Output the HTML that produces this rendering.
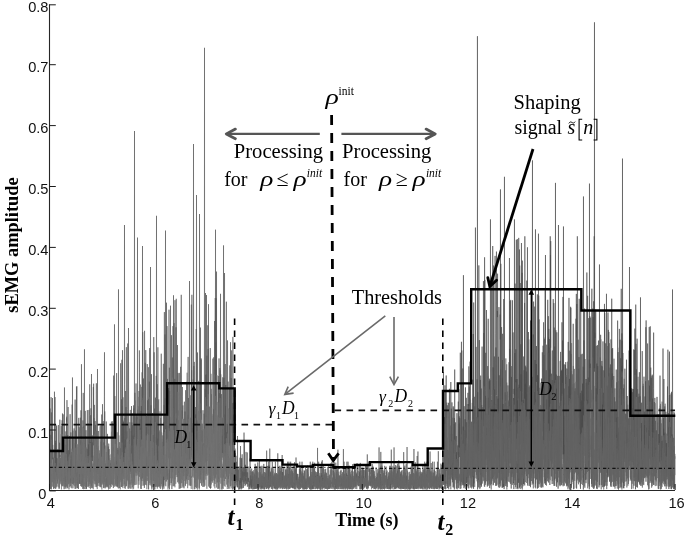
<!DOCTYPE html>
<html><head><meta charset="utf-8"><style>
html,body{margin:0;padding:0;background:#fff;overflow:hidden}
svg{display:block}
text{-webkit-font-smoothing:antialiased}
body{will-change:transform}
.tk{font-family:"Liberation Sans",sans-serif;font-size:14.6px;fill:#111}
.sf{font-family:"Liberation Serif",serif;fill:#000}
.it{font-style:italic}
.bd{font-weight:bold}
</style></head><body>
<svg width="685" height="539" viewBox="0 0 685 539">
<rect width="685" height="539" fill="#fff"/>
<path d="M49.60 457.1 49.73 460.2 49.85 424.7 49.98 408.5 50.10 449.2 50.23 488.7 50.35 471.8 50.48 483.4 50.60 448.8 50.73 469.1 50.85 434.8 50.98 489.2 51.10 397.1 51.23 439.7 51.35 412.4 51.48 448.6 51.60 462.0 51.73 482.5 51.85 473.9 51.98 481.7 52.10 442.9 52.23 431.8 52.35 459.3 52.48 398.0 52.60 450.3 52.73 444.9 52.85 457.7 52.98 478.6 53.10 457.6 53.23 464.4 53.35 468.3 53.48 488.1 53.60 488.9 53.73 451.3 53.85 449.4 53.98 452.5 54.10 465.1 54.23 483.4 54.35 430.8 54.48 391.7 54.60 470.6 54.73 461.0 54.85 479.8 54.98 397.8 55.10 397.1 55.23 488.3 55.35 440.8 55.48 469.1 55.60 443.1 55.73 481.4 55.85 481.3 55.98 456.2 56.10 425.2 56.23 472.4 56.35 457.8 56.48 476.5 56.60 426.1 56.73 476.9 56.85 471.8 56.98 479.6 57.10 473.5 57.23 481.2 57.35 458.6 57.48 483.6 57.60 473.9 57.73 476.3 57.85 454.6 57.98 449.0 58.10 476.3 58.23 478.7 58.35 425.0 58.48 471.8 58.60 472.5 58.73 469.2 58.85 467.7 58.98 463.1 59.10 489.0 59.23 472.6 59.35 460.6 59.48 453.3 59.60 442.7 59.73 482.7 59.85 419.7 59.98 457.0 60.10 454.8 60.23 460.5 60.35 464.2 60.48 477.7 60.60 461.1 60.73 472.1 60.85 458.0 60.98 480.3 61.10 481.1 61.23 452.5 61.35 426.1 61.48 451.7 61.60 485.6 61.73 484.1 61.85 449.1 61.98 477.7 62.10 420.3 62.23 464.3 62.35 486.3 62.48 413.5 62.60 449.1 62.73 439.7 62.85 462.0 62.98 479.1 63.10 422.7 63.23 414.4 63.35 449.8 63.48 476.0 63.60 477.3 63.73 481.7 63.85 478.4 63.98 484.9 64.10 489.2 64.23 440.0 64.35 451.9 64.48 387.5 64.60 483.7 64.73 457.4 64.85 483.8 64.98 444.4 65.10 449.0 65.23 488.7 65.35 455.3 65.48 483.3 65.60 445.0 65.73 454.4 65.85 431.4 65.98 487.1 66.10 458.0 66.23 455.4 66.35 485.8 66.48 418.3 66.60 421.6 66.73 416.7 66.85 463.7 66.98 400.1 67.10 431.9 67.23 431.8 67.35 487.6 67.48 475.0 67.60 460.4 67.73 435.0 67.85 477.2 67.98 483.6 68.10 407.0 68.23 482.7 68.35 450.2 68.48 460.7 68.60 467.1 68.73 471.2 68.85 468.9 68.98 489.4 69.10 461.7 69.23 453.7 69.35 439.7 69.48 460.1 69.60 436.0 69.73 473.3 69.85 483.4 69.98 424.9 70.10 414.2 70.23 440.5 70.35 473.2 70.48 486.2 70.61 459.5 70.73 464.5 70.86 432.4 70.98 482.6 71.11 461.8 71.23 480.8 71.36 455.6 71.48 477.0 71.61 452.1 71.73 478.4 71.86 488.3 71.98 453.4 72.11 404.6 72.23 417.7 72.36 467.3 72.48 377.5 72.61 484.0 72.73 445.2 72.86 430.6 72.98 468.8 73.11 438.1 73.23 483.0 73.36 472.5 73.48 476.2 73.61 484.7 73.73 474.9 73.86 462.4 73.98 437.3 74.11 428.4 74.23 476.9 74.36 469.3 74.48 473.2 74.61 480.7 74.73 482.7 74.86 481.1 74.98 462.0 75.11 399.6 75.23 483.0 75.36 437.3 75.48 486.2 75.61 430.6 75.73 439.6 75.86 471.0 75.98 444.0 76.11 457.6 76.23 483.6 76.36 470.1 76.48 386.7 76.61 482.8 76.73 413.5 76.86 386.3 76.98 429.6 77.11 486.7 77.23 487.8 77.36 468.9 77.48 482.0 77.61 488.2 77.73 471.7 77.86 460.4 77.98 474.1 78.11 447.3 78.23 449.1 78.36 485.4 78.48 489.0 78.61 476.8 78.73 417.9 78.86 483.7 78.98 460.3 79.11 426.8 79.23 483.7 79.36 447.8 79.48 439.5 79.61 476.0 79.73 476.6 79.86 439.9 79.98 484.0 80.11 435.6 80.23 438.0 80.36 417.7 80.48 431.3 80.61 444.5 80.73 440.6 80.86 486.0 80.98 410.3 81.11 470.2 81.23 466.6 81.36 486.6 81.48 364.2 81.61 473.7 81.73 477.6 81.86 450.3 81.98 436.3 82.11 482.2 82.23 462.2 82.36 465.9 82.48 485.4 82.61 442.2 82.73 467.1 82.86 489.0 82.98 420.4 83.11 442.4 83.23 392.9 83.36 488.5 83.48 459.9 83.61 477.6 83.73 426.6 83.86 473.6 83.98 473.9 84.11 466.6 84.23 475.1 84.36 444.9 84.48 349.3 84.61 467.9 84.73 457.4 84.86 489.0 84.98 443.4 85.11 447.8 85.23 410.9 85.36 463.0 85.48 468.4 85.61 484.0 85.73 436.3 85.86 463.2 85.98 430.2 86.11 489.2 86.23 487.9 86.36 478.6 86.48 488.7 86.61 471.9 86.73 448.6 86.86 478.8 86.98 470.9 87.11 474.6 87.23 449.5 87.36 410.1 87.48 469.1 87.61 475.5 87.73 472.8 87.86 467.9 87.98 449.2 88.11 458.0 88.23 423.4 88.36 486.1 88.48 444.5 88.61 468.2 88.73 460.7 88.86 459.9 88.98 409.9 89.11 455.0 89.23 424.0 89.36 482.0 89.48 415.7 89.61 392.9 89.73 384.3 89.86 414.8 89.98 484.2 90.11 470.3 90.23 483.3 90.36 442.1 90.48 450.9 90.61 477.6 90.73 415.2 90.86 457.1 90.98 408.3 91.11 471.4 91.23 480.0 91.36 485.8 91.49 374.0 91.61 457.7 91.74 488.1 91.86 439.0 91.99 446.7 92.11 457.6 92.24 451.2 92.36 442.4 92.49 461.0 92.61 435.4 92.74 475.9 92.86 479.5 92.99 472.8 93.11 463.5 93.24 471.7 93.36 387.1 93.49 434.9 93.61 383.7 93.74 445.3 93.86 418.0 93.99 419.7 94.11 464.6 94.24 461.8 94.36 404.9 94.49 476.3 94.61 475.6 94.74 444.5 94.86 471.4 94.99 440.8 95.11 421.1 95.24 452.1 95.36 481.8 95.49 464.5 95.61 424.8 95.74 472.4 95.86 448.3 95.99 445.1 96.11 446.8 96.24 425.1 96.36 383.3 96.49 470.6 96.61 487.2 96.74 430.8 96.86 466.4 96.99 447.6 97.11 472.4 97.24 485.9 97.36 445.2 97.49 369.0 97.61 464.0 97.74 474.2 97.86 465.0 97.99 461.2 98.11 458.6 98.24 469.8 98.36 431.0 98.49 472.6 98.61 480.5 98.74 483.0 98.86 466.4 98.99 470.0 99.11 464.3 99.24 474.2 99.36 462.1 99.49 453.4 99.61 480.5 99.74 482.3 99.86 465.5 99.99 486.5 100.11 472.9 100.24 487.2 100.36 465.5 100.49 483.5 100.61 441.7 100.74 474.3 100.86 474.3 100.99 483.4 101.11 475.5 101.24 462.9 101.36 425.7 101.49 476.6 101.61 461.4 101.74 414.5 101.86 482.8 101.99 484.6 102.11 456.9 102.24 443.2 102.36 434.5 102.49 404.2 102.61 423.5 102.74 471.2 102.86 479.5 102.99 482.5 103.11 470.3 103.24 421.1 103.36 468.2 103.49 479.5 103.61 462.6 103.74 488.1 103.86 478.8 103.99 442.4 104.11 487.7 104.24 443.0 104.36 396.8 104.49 352.3 104.61 481.7 104.74 411.4 104.86 462.6 104.99 465.8 105.11 463.9 105.24 467.5 105.36 477.0 105.49 463.5 105.61 486.3 105.74 478.7 105.86 487.6 105.99 482.3 106.11 482.1 106.24 421.5 106.36 465.2 106.49 476.3 106.61 477.5 106.74 485.6 106.86 476.5 106.99 475.7 107.11 486.9 107.24 471.8 107.36 472.0 107.49 433.9 107.61 486.2 107.74 485.3 107.86 468.8 107.99 462.8 108.11 470.8 108.24 459.3 108.36 446.5 108.49 488.1 108.61 486.7 108.74 443.6 108.86 464.6 108.99 456.8 109.11 449.1 109.24 474.1 109.36 459.3 109.49 476.4 109.61 470.5 109.74 474.2 109.86 485.0 109.99 475.6 110.11 472.8 110.24 460.1 110.36 485.7 110.49 462.9 110.61 470.0 110.74 477.2 110.86 474.5 110.99 463.9 111.11 487.0 111.24 472.6 111.36 437.3 111.49 431.7 111.61 455.5 111.74 460.7 111.86 484.2 111.99 436.4 112.11 437.5 112.24 421.3 112.37 462.2 112.49 443.8 112.62 423.0 112.74 441.9 112.87 473.1 112.99 483.8 113.12 446.9 113.24 483.2 113.37 488.1 113.49 459.8 113.62 375.6 113.74 473.9 113.87 466.9 113.99 464.0 114.12 471.3 114.24 462.3 114.37 435.7 114.49 324.4 114.62 436.9 114.74 437.0 114.87 396.1 114.99 414.3 115.12 485.5 115.24 435.3 115.37 443.7 115.49 430.9 115.62 440.8 115.74 462.2 115.87 483.8 115.99 483.5 116.12 460.9 116.24 482.4 116.37 463.3 116.49 482.0 116.62 373.1 116.74 486.1 116.87 445.0 116.99 432.3 117.12 442.7 117.24 453.5 117.37 469.0 117.49 487.3 117.62 476.2 117.74 468.0 117.87 447.9 117.99 485.8 118.12 483.9 118.24 449.8 118.37 478.6 118.49 289.4 118.62 470.6 118.74 464.6 118.87 475.9 118.99 472.1 119.12 468.2 119.24 488.0 119.37 464.8 119.49 478.0 119.62 442.2 119.74 445.3 119.87 459.0 119.99 448.2 120.12 464.7 120.24 475.3 120.37 480.1 120.49 457.0 120.62 363.3 120.74 382.2 120.87 467.2 120.99 472.6 121.12 480.8 121.24 486.8 121.37 483.6 121.49 399.3 121.62 436.3 121.74 481.2 121.87 359.8 121.99 463.0 122.12 439.5 122.24 406.2 122.37 486.5 122.49 350.2 122.62 473.4 122.74 419.7 122.87 421.3 122.99 397.3 123.12 473.0 123.24 421.2 123.37 476.8 123.49 421.9 123.62 475.9 123.74 427.3 123.87 422.6 123.99 466.3 124.12 445.1 124.24 484.3 124.37 462.8 124.49 225.0 124.62 384.4 124.74 453.0 124.87 418.1 124.99 447.3 125.12 439.6 125.24 470.2 125.37 462.1 125.49 429.9 125.62 391.0 125.74 417.2 125.87 449.2 125.99 407.0 126.12 447.2 126.24 486.1 126.37 347.2 126.49 477.6 126.62 456.9 126.74 472.2 126.87 479.8 126.99 456.1 127.12 465.3 127.24 431.3 127.37 438.4 127.49 411.1 127.62 409.7 127.74 343.5 127.87 428.8 127.99 480.6 128.12 475.3 128.24 481.4 128.37 458.6 128.49 328.0 128.62 391.1 128.74 455.2 128.87 488.9 128.99 469.7 129.12 460.5 129.24 484.5 129.37 458.9 129.49 440.4 129.62 440.8 129.74 428.4 129.87 470.5 129.99 422.3 130.12 469.5 130.24 445.8 130.37 471.7 130.49 457.1 130.62 448.3 130.74 452.6 130.87 484.6 130.99 430.9 131.12 473.9 131.24 452.3 131.37 442.1 131.49 406.0 131.62 477.8 131.74 473.2 131.87 422.5 131.99 445.3 132.12 413.3 132.24 438.1 132.37 487.4 132.49 432.3 132.62 425.2 132.74 466.4 132.87 464.2 133.00 435.7 133.12 457.0 133.25 480.8 133.37 483.3 133.50 460.1 133.62 405.4 133.75 485.6 133.87 408.5 134.00 464.9 134.12 479.6 134.25 476.3 134.37 446.7 134.50 131.0 134.62 431.7 134.75 484.9 134.87 392.8 135.00 457.1 135.12 472.2 135.25 437.2 135.37 417.5 135.50 460.3 135.62 436.4 135.75 432.3 135.87 417.6 136.00 383.5 136.12 435.1 136.25 444.5 136.37 466.3 136.50 414.6 136.62 441.9 136.75 451.6 136.87 461.9 137.00 417.1 137.12 450.0 137.25 425.3 137.37 466.4 137.50 237.6 137.62 428.7 137.75 471.4 137.87 468.5 138.00 451.8 138.12 409.7 138.25 448.6 138.37 424.5 138.50 430.0 138.62 439.8 138.75 473.9 138.87 473.1 139.00 391.0 139.12 420.9 139.25 459.4 139.37 350.4 139.50 372.8 139.62 472.0 139.75 453.9 139.87 419.3 140.00 434.3 140.12 429.5 140.25 428.7 140.37 384.5 140.50 450.0 140.62 458.6 140.75 427.9 140.87 441.4 141.00 479.3 141.12 410.9 141.25 489.0 141.37 406.1 141.50 446.4 141.62 416.1 141.75 386.9 141.87 458.8 142.00 481.1 142.12 372.3 142.25 389.3 142.37 478.5 142.50 246.0 142.62 397.6 142.75 332.2 142.87 409.8 143.00 448.4 143.12 454.3 143.25 429.7 143.37 420.1 143.50 378.5 143.62 475.3 143.75 485.6 143.87 457.5 144.00 452.2 144.12 449.2 144.25 438.8 144.37 487.9 144.50 330.9 144.62 330.8 144.75 417.6 144.87 454.7 145.00 447.3 145.12 447.4 145.25 362.8 145.37 481.6 145.50 470.6 145.62 480.0 145.75 350.1 145.87 452.6 146.00 456.0 146.12 475.8 146.25 427.1 146.37 440.2 146.50 416.0 146.62 465.2 146.75 477.7 146.87 480.8 147.00 456.7 147.12 476.3 147.25 364.1 147.37 432.3 147.50 433.7 147.62 400.3 147.75 450.8 147.87 471.5 148.00 458.3 148.12 479.3 148.25 414.4 148.37 367.2 148.50 489.2 148.62 449.8 148.75 398.8 148.87 467.8 149.00 429.4 149.12 463.7 149.25 468.1 149.37 381.7 149.50 452.5 149.62 348.1 149.75 396.8 149.87 455.7 150.00 420.4 150.12 458.4 150.25 468.3 150.37 463.8 150.50 267.0 150.62 468.8 150.75 463.8 150.87 480.0 151.00 405.3 151.12 483.7 151.25 425.9 151.37 423.7 151.50 374.2 151.62 480.2 151.75 478.5 151.87 489.4 152.00 482.7 152.12 480.9 152.25 471.7 152.37 464.9 152.50 451.9 152.62 413.0 152.75 473.9 152.87 447.9 153.00 465.2 153.12 435.1 153.25 448.3 153.37 481.0 153.50 465.3 153.62 463.5 153.75 337.1 153.88 486.6 154.00 449.8 154.13 352.3 154.25 471.6 154.38 452.1 154.50 422.8 154.63 408.6 154.75 478.9 154.88 489.3 155.00 473.7 155.13 474.0 155.25 430.6 155.38 397.6 155.50 462.7 155.63 437.1 155.75 486.9 155.88 440.6 156.00 398.5 156.13 473.2 156.25 375.9 156.38 398.2 156.50 215.8 156.63 482.4 156.75 422.7 156.88 434.8 157.00 464.6 157.13 457.5 157.25 384.2 157.38 461.3 157.50 487.2 157.63 438.6 157.75 461.8 157.88 347.3 158.00 450.9 158.13 477.5 158.25 415.5 158.38 458.0 158.50 473.4 158.63 400.5 158.75 399.4 158.88 487.1 159.00 452.6 159.13 486.2 159.25 438.5 159.38 431.7 159.50 460.0 159.63 477.3 159.75 443.0 159.88 444.6 160.00 488.2 160.13 462.0 160.25 451.8 160.38 474.0 160.50 473.9 160.63 418.4 160.75 417.9 160.88 448.6 161.00 439.0 161.13 404.6 161.25 353.7 161.38 456.6 161.50 449.0 161.63 471.0 161.75 456.1 161.88 483.9 162.00 482.3 162.13 441.7 162.25 461.3 162.38 464.6 162.50 477.4 162.63 489.5 162.75 435.4 162.88 458.1 163.00 480.0 163.13 477.6 163.25 486.7 163.38 363.8 163.50 485.4 163.63 425.6 163.75 422.0 163.88 488.7 164.00 466.0 164.13 404.9 164.25 445.7 164.38 312.1 164.50 387.8 164.63 480.1 164.75 477.0 164.88 438.4 165.00 334.5 165.13 415.6 165.25 398.5 165.38 429.1 165.50 230.6 165.63 430.4 165.75 479.3 165.88 475.7 166.00 447.3 166.13 382.0 166.25 467.2 166.38 481.5 166.50 302.7 166.63 456.6 166.75 448.1 166.88 476.4 167.00 326.1 167.13 448.8 167.25 422.1 167.38 407.7 167.50 378.9 167.63 479.8 167.75 472.6 167.88 469.1 168.00 479.4 168.13 465.3 168.25 389.9 168.38 431.2 168.50 458.0 168.63 457.8 168.75 388.1 168.88 404.5 169.00 309.7 169.13 421.4 169.25 459.4 169.38 367.7 169.50 489.3 169.63 391.1 169.75 457.9 169.88 485.3 170.00 428.5 170.13 447.4 170.25 394.6 170.38 372.9 170.50 305.7 170.63 453.4 170.75 457.9 170.88 452.5 171.00 465.2 171.13 483.1 171.25 428.4 171.38 442.8 171.50 335.2 171.63 428.6 171.75 437.4 171.88 489.1 172.00 460.1 172.13 398.4 172.25 410.3 172.38 357.5 172.50 472.2 172.63 433.6 172.75 422.2 172.88 427.3 173.00 326.1 173.13 486.3 173.25 475.0 173.38 464.3 173.50 295.3 173.63 435.9 173.75 455.7 173.88 444.6 174.00 323.1 174.13 465.8 174.25 423.2 174.38 467.4 174.50 441.4 174.63 416.4 174.76 378.9 174.88 479.1 175.01 300.2 175.13 423.8 175.26 446.3 175.38 424.6 175.51 468.5 175.63 450.2 175.76 458.1 175.88 475.1 176.01 327.3 176.13 424.9 176.26 298.8 176.38 447.9 176.51 418.5 176.63 459.8 176.76 465.0 176.88 451.9 177.01 477.1 177.13 383.4 177.26 405.9 177.38 433.1 177.51 345.0 177.63 443.5 177.76 482.3 177.88 372.9 178.01 415.5 178.13 410.5 178.26 437.7 178.38 469.4 178.51 472.9 178.63 420.2 178.76 454.6 178.88 481.3 179.01 434.9 179.13 476.5 179.26 383.6 179.38 474.5 179.51 482.2 179.63 454.7 179.76 448.1 179.88 436.6 180.01 429.3 180.13 480.1 180.26 466.4 180.38 450.7 180.51 445.0 180.63 366.8 180.76 388.2 180.88 382.8 181.01 456.0 181.13 468.7 181.26 294.8 181.38 438.3 181.51 446.2 181.63 468.1 181.76 483.1 181.88 410.4 182.01 465.9 182.13 407.6 182.26 396.7 182.38 387.0 182.51 409.9 182.63 416.7 182.76 418.7 182.88 405.4 183.01 486.8 183.13 451.8 183.26 466.7 183.38 476.0 183.51 425.3 183.63 423.4 183.76 418.8 183.88 451.3 184.01 437.1 184.13 464.9 184.26 425.5 184.38 401.7 184.51 464.7 184.63 432.9 184.76 433.3 184.88 472.4 185.01 411.5 185.13 443.6 185.26 451.9 185.38 484.7 185.51 478.4 185.63 390.2 185.76 441.4 185.88 448.8 186.01 461.7 186.13 443.7 186.26 479.5 186.38 470.4 186.51 470.7 186.63 381.8 186.76 386.1 186.88 483.8 187.01 474.4 187.13 474.6 187.26 383.0 187.38 394.1 187.51 476.1 187.63 414.8 187.76 428.7 187.88 396.9 188.01 377.3 188.13 356.9 188.26 480.0 188.38 398.0 188.51 439.2 188.63 462.6 188.76 442.1 188.88 439.4 189.01 460.7 189.13 441.6 189.26 464.6 189.38 423.6 189.51 281.0 189.63 460.9 189.76 440.2 189.88 435.3 190.01 431.8 190.13 461.6 190.26 485.6 190.38 424.4 190.51 428.9 190.63 417.7 190.76 485.5 190.88 484.3 191.01 441.0 191.13 433.2 191.26 356.0 191.38 304.6 191.51 450.2 191.63 370.2 191.76 457.2 191.88 294.8 192.01 459.0 192.13 390.2 192.26 434.9 192.38 428.1 192.51 458.3 192.63 423.3 192.76 458.1 192.88 453.9 193.01 447.4 193.13 407.8 193.26 379.4 193.38 391.4 193.51 144.0 193.63 418.2 193.76 366.0 193.88 426.9 194.01 429.9 194.13 429.2 194.26 361.9 194.38 393.3 194.51 458.7 194.63 489.3 194.76 449.0 194.88 474.6 195.01 482.6 195.13 469.4 195.26 472.5 195.38 407.0 195.51 439.2 195.64 451.9 195.76 414.5 195.89 421.4 196.01 458.6 196.14 448.0 196.26 329.1 196.39 461.1 196.51 195.0 196.64 386.3 196.76 402.1 196.89 488.1 197.01 420.4 197.14 431.1 197.26 426.6 197.39 463.6 197.51 352.5 197.64 408.9 197.76 454.0 197.89 477.5 198.01 475.9 198.14 472.1 198.26 469.6 198.39 431.7 198.51 457.7 198.64 413.4 198.76 380.9 198.89 404.5 199.01 475.9 199.14 488.2 199.26 460.2 199.39 468.9 199.51 214.0 199.64 399.3 199.76 483.4 199.89 453.8 200.01 480.2 200.14 411.7 200.26 428.2 200.39 479.3 200.51 327.6 200.64 474.9 200.76 384.0 200.89 441.6 201.01 358.2 201.14 419.7 201.26 359.4 201.39 429.3 201.51 485.7 201.64 485.2 201.76 430.6 201.89 469.8 202.01 463.7 202.14 423.7 202.26 428.6 202.39 460.7 202.51 444.7 202.64 458.0 202.76 444.2 202.89 472.7 203.01 410.2 203.14 454.5 203.26 443.2 203.39 462.3 203.51 482.0 203.64 469.0 203.76 486.7 203.89 485.9 204.01 466.8 204.14 413.7 204.26 457.2 204.39 392.9 204.51 47.8 204.64 429.5 204.76 427.2 204.89 485.7 205.01 416.9 205.14 388.8 205.26 461.8 205.39 436.0 205.51 293.0 205.64 462.6 205.76 446.2 205.89 374.9 206.01 440.8 206.14 389.4 206.26 374.3 206.39 465.4 206.51 295.0 206.64 473.9 206.76 384.9 206.89 355.7 207.01 386.2 207.14 434.3 207.26 461.0 207.39 395.1 207.51 445.0 207.64 432.6 207.76 325.3 207.89 447.5 208.01 426.9 208.14 349.1 208.26 443.9 208.39 406.5 208.51 304.2 208.64 440.7 208.76 468.1 208.89 473.4 209.01 447.4 209.14 450.2 209.26 418.0 209.39 406.6 209.51 454.2 209.64 484.3 209.76 454.0 209.89 487.7 210.01 448.3 210.14 430.9 210.26 348.1 210.39 445.6 210.51 488.7 210.64 465.0 210.76 481.4 210.89 488.0 211.01 454.0 211.14 481.1 211.26 388.8 211.39 441.4 211.51 394.2 211.64 442.6 211.76 415.6 211.89 444.6 212.01 429.6 212.14 461.8 212.26 481.5 212.39 457.3 212.51 453.6 212.64 430.1 212.76 426.1 212.89 358.6 213.01 404.5 213.14 405.7 213.26 438.0 213.39 472.5 213.51 474.4 213.64 474.8 213.76 357.3 213.89 433.5 214.01 409.1 214.14 444.1 214.26 478.1 214.39 458.2 214.51 321.0 214.64 399.9 214.76 436.2 214.89 441.3 215.01 484.0 215.14 460.1 215.26 298.0 215.39 477.5 215.51 229.7 215.64 453.2 215.76 342.5 215.89 420.9 216.01 354.8 216.14 384.8 216.26 298.3 216.39 404.8 216.52 271.6 216.64 433.7 216.77 474.6 216.89 462.4 217.02 420.5 217.14 433.4 217.27 478.5 217.39 482.3 217.52 461.6 217.64 456.3 217.77 430.6 217.89 470.6 218.02 401.9 218.14 427.3 218.27 376.0 218.39 466.2 218.52 444.1 218.64 488.7 218.77 380.5 218.89 478.7 219.02 358.4 219.14 417.9 219.27 393.1 219.39 461.4 219.52 438.7 219.64 459.6 219.77 452.5 219.89 368.1 220.02 377.6 220.14 382.9 220.27 370.4 220.39 417.5 220.52 293.8 220.64 459.2 220.77 374.3 220.89 387.8 221.02 467.6 221.14 468.7 221.27 443.5 221.39 394.1 221.52 396.5 221.64 447.0 221.77 459.8 221.89 450.3 222.02 449.9 222.14 453.0 222.27 435.8 222.39 452.9 222.52 449.6 222.64 383.5 222.77 377.3 222.89 457.6 223.02 417.9 223.14 478.2 223.27 428.9 223.39 436.7 223.52 245.4 223.64 476.7 223.77 469.8 223.89 377.8 224.02 415.2 224.14 475.8 224.27 481.0 224.39 431.1 224.52 273.0 224.64 343.8 224.77 456.6 224.89 453.6 225.02 414.4 225.14 445.7 225.27 364.0 225.39 471.4 225.52 405.9 225.64 452.5 225.77 385.0 225.89 436.6 226.02 473.9 226.14 409.6 226.27 374.8 226.39 301.7 226.52 447.2 226.64 476.4 226.77 432.1 226.89 476.5 227.02 454.3 227.14 455.1 227.27 423.8 227.39 442.9 227.52 340.4 227.64 366.6 227.77 425.0 227.89 467.7 228.02 430.6 228.14 381.6 228.27 478.8 228.39 457.1 228.52 456.1 228.64 488.8 228.77 488.6 228.89 463.9 229.02 429.0 229.14 408.5 229.27 409.2 229.39 388.3 229.52 445.5 229.64 398.5 229.77 365.4 229.89 471.6 230.02 456.7 230.14 387.4 230.27 480.6 230.39 486.1 230.52 342.2 230.64 468.2 230.77 468.6 230.89 485.6 231.02 400.2 231.14 378.0 231.27 410.3 231.39 432.6 231.52 431.8 231.64 350.4 231.77 480.3 231.89 479.3 232.02 455.8 232.14 474.1 232.27 472.7 232.39 489.5 232.52 422.3 232.64 403.1 232.77 469.4 232.89 336.9 233.02 465.4 233.14 389.4 233.27 475.0 233.39 420.9 233.52 447.1 233.64 457.6 233.77 421.0 233.89 465.9 234.02 468.5 234.14 450.6 234.27 448.1 234.39 486.6 234.52 441.0 234.64 489.5 234.77 486.7 234.89 464.3 235.02 448.6" stroke="#555555" stroke-width="0.6" fill="none" stroke-linejoin="bevel"/><path d="M235.02 448.6 235.14 483.1 235.27 453.2 235.39 462.5 235.52 470.9 235.64 466.7 235.77 487.2 235.89 483.0 236.02 455.8 236.14 485.6 236.27 476.1 236.39 480.3 236.52 461.8 236.64 462.2 236.77 465.5 236.89 478.4 237.02 468.1 237.14 482.0 237.27 478.7 237.40 487.2 237.52 436.0 237.65 487.3 237.77 483.2 237.90 470.6 238.02 467.5 238.15 481.1 238.27 477.5 238.40 469.7 238.52 489.5 238.65 488.9 238.77 488.2 238.90 481.9 239.02 474.9 239.15 466.5 239.27 481.2 239.40 480.6 239.52 489.4 239.65 482.0 239.77 481.1 239.90 484.8 240.02 457.7 240.15 488.8 240.27 478.0 240.40 482.9 240.52 446.0 240.65 472.6 240.77 478.5 240.90 487.7 241.02 478.7 241.15 489.5 241.27 488.4 241.40 458.5 241.52 488.5 241.65 477.2 241.77 458.1 241.90 481.8 242.02 473.4 242.15 454.3 242.27 476.6 242.40 480.2 242.52 471.4 242.65 488.3 242.77 483.3 242.90 476.2 243.02 467.1 243.15 476.3 243.27 467.3 243.40 478.2 243.52 487.8 243.65 472.2 243.77 475.3 243.90 482.2 244.02 432.6 244.15 467.1 244.27 483.8 244.40 476.3 244.52 440.0 244.65 475.8 244.77 472.1 244.90 483.6 245.02 486.1 245.15 464.7 245.27 480.8 245.40 465.1 245.52 476.2 245.65 485.0 245.77 478.4 245.90 481.3 246.02 451.9 246.15 477.0 246.27 468.6 246.40 479.6 246.52 483.7 246.65 478.4 246.77 473.0 246.90 472.2 247.02 484.1 247.15 477.5 247.27 452.5 247.40 486.7 247.52 482.5 247.65 472.5 247.77 476.6 247.90 481.1 248.02 478.9 248.15 478.1 248.27 482.0 248.40 477.9 248.52 480.2 248.65 478.6 248.77 489.4 248.90 466.5 249.02 485.7 249.15 486.4 249.27 484.5 249.40 484.1 249.52 489.1 249.65 485.5 249.77 480.7 249.90 487.0 250.02 458.6 250.15 484.4 250.27 470.4 250.40 474.2 250.52 485.4 250.65 480.8 250.77 475.6 250.90 488.5 251.02 485.2 251.15 484.3 251.27 489.1 251.40 479.5 251.52 487.9 251.65 468.6 251.77 486.4 251.90 483.2 252.02 471.9 252.15 484.1 252.27 487.2 252.40 478.9 252.52 471.3 252.65 472.8 252.77 488.6 252.90 489.4 253.02 486.8 253.15 476.4 253.27 480.3 253.40 477.9 253.52 486.1 253.65 485.6 253.77 483.1 253.90 481.5 254.02 486.0 254.15 485.0 254.27 489.2 254.40 477.5 254.52 474.6 254.65 485.0 254.77 483.7 254.90 467.6 255.02 486.6 255.15 463.8 255.27 481.4 255.40 488.9 255.52 485.7 255.65 481.3 255.77 475.5 255.90 476.9 256.02 488.8 256.15 487.6 256.27 469.1 256.40 475.7 256.52 483.7 256.65 466.0 256.77 485.7 256.90 488.7 257.02 476.0 257.15 487.7 257.27 486.9 257.40 480.6 257.52 486.6 257.65 470.5 257.77 462.4 257.90 487.8 258.02 472.3 258.15 486.3 258.28 477.7 258.40 483.6 258.53 488.9 258.65 484.3 258.78 481.8 258.90 482.5 259.03 483.4 259.15 487.2 259.28 467.1 259.40 460.1 259.53 483.7 259.65 484.2 259.78 485.8 259.90 483.4 260.03 487.5 260.15 478.0 260.28 478.6 260.40 466.6 260.53 482.6 260.65 487.0 260.78 485.8 260.90 482.3 261.03 482.8 261.15 489.3 261.28 474.3 261.40 479.9 261.53 488.1 261.65 475.9 261.78 487.6 261.90 487.4 262.03 489.3 262.15 489.0 262.28 486.7 262.40 475.7 262.53 488.4 262.65 485.6 262.78 473.6 262.90 481.9 263.03 486.8 263.15 485.4 263.28 479.7 263.40 482.1 263.53 476.6 263.65 489.3 263.78 463.9 263.90 474.5 264.03 482.6 264.15 472.0 264.28 483.8 264.40 489.4 264.53 477.7 264.65 477.7 264.78 489.2 264.90 478.5 265.03 487.2 265.15 472.2 265.28 482.3 265.40 473.5 265.53 484.9 265.65 475.1 265.78 484.2 265.90 487.0 266.03 484.9 266.15 484.8 266.28 488.2 266.40 489.0 266.53 483.7 266.65 450.6 266.78 482.5 266.90 487.1 267.03 479.2 267.15 482.9 267.28 466.0 267.40 473.7 267.53 480.1 267.65 488.3 267.78 483.0 267.90 482.0 268.03 486.2 268.15 484.2 268.28 488.1 268.40 466.0 268.53 483.1 268.65 461.7 268.78 489.5 268.90 485.5 269.03 465.3 269.15 486.1 269.28 466.6 269.40 487.4 269.53 485.3 269.65 486.9 269.78 448.6 269.90 487.3 270.03 486.5 270.15 472.5 270.28 484.3 270.40 485.9 270.53 473.2 270.65 471.6 270.78 486.5 270.90 486.1 271.03 487.2 271.15 486.3 271.28 482.6 271.40 477.5 271.53 468.4 271.65 478.7 271.78 479.2 271.90 479.2 272.03 484.2 272.15 471.7 272.28 461.7 272.40 464.2 272.53 486.3 272.65 489.5 272.78 471.4 272.90 485.3 273.03 485.4 273.15 485.2 273.28 475.9 273.40 486.0 273.53 484.8 273.65 482.2 273.78 484.0 273.90 477.1 274.03 474.6 274.15 483.2 274.28 477.1 274.40 488.4 274.53 477.6 274.65 484.9 274.78 488.3 274.90 474.1 275.03 487.7 275.15 484.5 275.28 488.7 275.40 461.7 275.53 481.4 275.65 482.7 275.78 487.8 275.90 484.4 276.03 489.3 276.15 479.4 276.28 473.2 276.40 473.3 276.53 485.3 276.65 482.5 276.78 487.6 276.90 489.6 277.03 475.7 277.15 481.2 277.28 481.5 277.40 485.6 277.53 488.7 277.65 480.1 277.78 453.3 277.90 475.9 278.03 475.2 278.15 484.9 278.28 485.4 278.40 487.2 278.53 483.5 278.65 467.0 278.78 483.5 278.90 480.8 279.03 478.9 279.16 479.2 279.28 475.6 279.41 482.2 279.53 474.9 279.66 465.8 279.78 486.6 279.91 473.8 280.03 487.4 280.16 488.9 280.28 467.4 280.41 485.4 280.53 480.0 280.66 484.2 280.78 471.1 280.91 482.3 281.03 480.2 281.16 481.1 281.28 484.7 281.41 486.6 281.53 466.0 281.66 482.5 281.78 484.8 281.91 476.7 282.03 481.6 282.16 455.0 282.28 482.4 282.41 472.1 282.53 483.5 282.66 477.4 282.78 472.1 282.91 474.2 283.03 475.7 283.16 480.3 283.28 486.7 283.41 478.4 283.53 476.4 283.66 468.5 283.78 487.2 283.91 480.8 284.03 482.7 284.16 484.4 284.28 478.4 284.41 486.2 284.53 486.1 284.66 476.4 284.78 489.0 284.91 481.5 285.03 486.9 285.16 485.0 285.28 474.8 285.41 483.7 285.53 487.4 285.66 469.8 285.78 487.0 285.91 468.6 286.03 487.4 286.16 475.3 286.28 480.9 286.41 485.4 286.53 489.4 286.66 479.7 286.78 487.5 286.91 469.5 287.03 485.1 287.16 482.5 287.28 486.0 287.41 476.1 287.53 479.1 287.66 461.7 287.78 478.9 287.91 483.5 288.03 489.5 288.16 489.4 288.28 483.9 288.41 479.5 288.53 473.9 288.66 474.8 288.78 486.9 288.91 461.7 289.03 478.1 289.16 468.4 289.28 467.8 289.41 482.3 289.53 467.0 289.66 487.5 289.78 474.4 289.91 488.8 290.03 485.0 290.16 482.0 290.28 484.7 290.41 481.5 290.53 474.8 290.66 461.7 290.78 484.0 290.91 484.7 291.03 485.0 291.16 487.5 291.28 477.7 291.41 483.3 291.53 485.9 291.66 469.4 291.78 483.9 291.91 486.6 292.03 480.4 292.16 468.1 292.28 488.0 292.41 478.9 292.53 488.3 292.66 471.4 292.78 477.4 292.91 483.2 293.03 482.5 293.16 473.7 293.28 473.1 293.41 476.6 293.53 487.6 293.66 486.9 293.78 482.5 293.91 486.7 294.03 486.8 294.16 482.9 294.28 488.3 294.41 485.5 294.53 462.2 294.66 481.3 294.78 489.1 294.91 484.1 295.03 469.5 295.16 470.1 295.28 488.9 295.41 482.5 295.53 483.5 295.66 468.3 295.78 475.2 295.91 479.8 296.03 457.5 296.16 480.0 296.28 480.5 296.41 467.5 296.53 478.0 296.66 482.8 296.78 474.6 296.91 474.0 297.03 484.0 297.16 473.7 297.28 478.9 297.41 485.6 297.53 488.2 297.66 486.7 297.78 486.7 297.91 474.0 298.03 487.2 298.16 483.6 298.28 483.2 298.41 481.5 298.53 482.3 298.66 482.3 298.78 487.4 298.91 486.6 299.03 476.7 299.16 484.3 299.28 484.7 299.41 469.0 299.53 484.2 299.66 485.7 299.79 461.7 299.91 485.1 300.04 486.9 300.16 483.5 300.29 489.0 300.41 467.9 300.54 476.6 300.66 470.0 300.79 482.2 300.91 476.9 301.04 486.5 301.16 484.9 301.29 473.6 301.41 477.8 301.54 478.1 301.66 482.8 301.79 482.1 301.91 480.6 302.04 461.7 302.16 487.3 302.29 473.9 302.41 487.4 302.54 472.7 302.66 476.0 302.79 487.4 302.91 480.5 303.04 473.2 303.16 482.4 303.29 488.1 303.41 485.5 303.54 487.8 303.66 489.5 303.79 475.8 303.91 479.6 304.04 472.2 304.16 470.2 304.29 489.5 304.41 482.2 304.54 471.1 304.66 478.9 304.79 488.3 304.91 482.7 305.04 478.3 305.16 488.1 305.29 479.4 305.41 488.8 305.54 483.3 305.66 485.5 305.79 481.4 305.91 489.2 306.04 488.6 306.16 482.1 306.29 483.3 306.41 480.7 306.54 487.4 306.66 483.7 306.79 485.5 306.91 469.2 307.04 486.0 307.16 469.1 307.29 481.7 307.41 474.2 307.54 465.6 307.66 480.6 307.79 487.1 307.91 486.2 308.04 487.6 308.16 487.6 308.29 484.4 308.41 477.9 308.54 484.2 308.66 478.4 308.79 486.0 308.91 487.6 309.04 477.9 309.16 482.4 309.29 483.6 309.41 480.5 309.54 477.6 309.66 488.7 309.79 480.0 309.91 489.0 310.04 489.5 310.16 486.9 310.29 461.7 310.41 473.0 310.54 478.4 310.66 488.2 310.79 468.5 310.91 489.4 311.04 483.2 311.16 488.0 311.29 478.6 311.41 479.8 311.54 487.9 311.66 487.0 311.79 482.2 311.91 481.1 312.04 483.7 312.16 489.3 312.29 485.7 312.41 488.9 312.54 485.1 312.66 486.5 312.79 461.7 312.91 479.0 313.04 481.9 313.16 489.2 313.29 476.1 313.41 479.5 313.54 483.3 313.66 488.8 313.79 487.3 313.91 471.7 314.04 483.2 314.16 468.5 314.29 481.8 314.41 486.2 314.54 479.7 314.66 462.7 314.79 481.8 314.91 476.4 315.04 477.2 315.16 489.2 315.29 477.0 315.41 471.4 315.54 476.9 315.66 475.8 315.79 481.0 315.91 485.7 316.04 480.0 316.16 478.5 316.29 472.0 316.41 481.6 316.54 480.0 316.66 488.5 316.79 478.4 316.91 485.4 317.04 475.0 317.16 476.6 317.29 488.6 317.41 484.2 317.54 447.9 317.66 488.2 317.79 488.4 317.91 471.8 318.04 481.9 318.16 464.2 318.29 486.8 318.41 483.0 318.54 473.6 318.66 461.7 318.79 488.2 318.91 481.0 319.04 475.4 319.16 486.5 319.29 486.6 319.41 482.0 319.54 476.1 319.66 484.8 319.79 484.8 319.91 479.6 320.04 481.9 320.16 477.2 320.29 488.0 320.41 480.9 320.54 489.3 320.67 475.8 320.79 489.6 320.92 488.1 321.04 486.7 321.17 473.0 321.29 478.2 321.42 475.9 321.54 461.7 321.67 486.5 321.79 474.8 321.92 487.3 322.04 487.6 322.17 478.8 322.29 460.2 322.42 463.0 322.54 477.1 322.67 488.4 322.79 477.8 322.92 486.2 323.04 468.6 323.17 484.8 323.29 474.0 323.42 473.6 323.54 465.8 323.67 476.3 323.79 484.8 323.92 487.7 324.04 485.0 324.17 487.9 324.29 475.2 324.42 483.6 324.54 486.7 324.67 474.8 324.79 477.3 324.92 472.4 325.04 486.5 325.17 479.6 325.29 476.3 325.42 488.2 325.54 487.9 325.67 468.9 325.79 481.5 325.92 482.3 326.04 483.6 326.17 480.5 326.29 473.1 326.42 488.7 326.54 489.1 326.67 488.7 326.79 481.6 326.92 478.7 327.04 476.0 327.17 483.6 327.29 482.5 327.42 480.9 327.54 482.0 327.67 484.8 327.79 478.1 327.92 480.6 328.04 484.8 328.17 480.3 328.29 489.0 328.42 483.0 328.54 488.6 328.67 488.4 328.79 481.3 328.92 475.8 329.04 478.2 329.17 480.3 329.29 488.3 329.42 480.7 329.54 476.9 329.67 474.6 329.79 488.6 329.92 485.9 330.04 486.7 330.17 482.8 330.29 487.0 330.42 483.6 330.54 479.5 330.67 471.3 330.79 463.4 330.92 487.4 331.04 481.6 331.17 482.5 331.29 482.2 331.42 483.8 331.54 474.3 331.67 472.4 331.79 463.9 331.92 461.7 332.04 471.0 332.17 480.8 332.29 482.0 332.42 483.4 332.54 485.6 332.67 477.6 332.79 478.4 332.92 480.1 333.04 487.2 333.17 485.4 333.29 471.0 333.42 478.3 333.54 479.5 333.67 468.1 333.79 487.2 333.92 477.0 334.04 469.2 334.17 461.7 334.29 470.1 334.42 481.7 334.54 475.6 334.67 485.4 334.79 477.3 334.92 481.9 335.04 484.1 335.17 481.7 335.29 489.6 335.42 480.3 335.54 479.1 335.67 487.6 335.79 462.7 335.92 483.0 336.04 489.0 336.17 481.4 336.29 485.0 336.42 478.6 336.54 471.8 336.67 488.6 336.79 474.4 336.92 482.0 337.04 485.3 337.17 470.0 337.29 486.9 337.42 477.6 337.54 482.9 337.67 478.9 337.79 486.0 337.92 449.7 338.04 467.6 338.17 482.2 338.29 485.2 338.42 486.2 338.54 487.4 338.67 484.6 338.79 476.0 338.92 478.0 339.04 489.2 339.17 479.2 339.29 482.5 339.42 479.3 339.54 477.0 339.67 480.1 339.79 480.4 339.92 484.4 340.04 486.9 340.17 486.1 340.29 488.9 340.42 485.0 340.54 484.1 340.67 486.0 340.79 470.8 340.92 480.9 341.04 469.8 341.17 483.2 341.29 478.3 341.42 489.2 341.55 478.5 341.67 480.3 341.80 485.7 341.92 483.3 342.05 476.6 342.17 487.4 342.30 479.4 342.42 482.6 342.55 481.4 342.67 485.9 342.80 489.2 342.92 472.7 343.05 474.4 343.17 480.6 343.30 472.3 343.42 449.1 343.55 483.9 343.67 488.8 343.80 470.6 343.92 486.2 344.05 461.7 344.17 487.6 344.30 479.0 344.42 476.9 344.55 479.5 344.67 484.4 344.80 481.7 344.92 487.4 345.05 484.3 345.17 474.1 345.30 467.2 345.42 479.7 345.55 489.5 345.67 480.1 345.80 483.0 345.92 468.6 346.05 481.8 346.17 487.0 346.30 478.9 346.42 488.4 346.55 473.3 346.67 476.0 346.80 465.1 346.92 461.7 347.05 479.5 347.17 489.5 347.30 474.9 347.42 476.3 347.55 480.9 347.67 488.4 347.80 489.5 347.92 486.7 348.05 461.7 348.17 470.9 348.30 476.5 348.42 487.7 348.55 484.5 348.67 468.3 348.80 487.4 348.92 488.9 349.05 487.1 349.17 469.6 349.30 465.7 349.42 482.5 349.55 468.7 349.67 475.2 349.80 489.3 349.92 472.3 350.05 489.0 350.17 482.5 350.30 488.3 350.42 488.8 350.55 475.4 350.67 478.5 350.80 486.7 350.92 474.1 351.05 479.3 351.17 489.3 351.30 479.8 351.42 486.9 351.55 485.8 351.67 483.9 351.80 480.5 351.92 484.3 352.05 477.0 352.17 489.4 352.30 488.2 352.42 485.6 352.55 464.3 352.67 481.5 352.80 471.2 352.92 479.8 353.05 478.5 353.17 488.8 353.30 488.1 353.42 483.8 353.55 486.6 353.67 478.4 353.80 476.2 353.92 485.5 354.05 479.8 354.17 484.9 354.30 481.7 354.42 479.5 354.55 468.0 354.67 482.8 354.80 477.2 354.92 465.1 355.05 473.4 355.17 485.6 355.30 469.5 355.42 486.5 355.55 482.5 355.67 485.1 355.80 488.9 355.92 483.0 356.05 475.1 356.17 477.1 356.30 472.6 356.42 481.1 356.55 474.1 356.67 475.1 356.80 475.6 356.92 481.8 357.05 463.1 357.17 469.3 357.30 474.4 357.42 474.9 357.55 482.4 357.67 479.4 357.80 481.9 357.92 480.3 358.05 470.9 358.17 475.8 358.30 486.1 358.42 476.0 358.55 480.6 358.67 478.8 358.80 484.8 358.92 483.9 359.05 485.6 359.17 477.2 359.30 465.4 359.42 482.9 359.55 472.3 359.67 481.1 359.80 482.9 359.92 471.5 360.05 480.7 360.17 486.9 360.30 462.9 360.42 482.1 360.55 489.0 360.67 479.1 360.80 471.0 360.92 485.1 361.05 469.9 361.17 485.0 361.30 477.2 361.42 479.5 361.55 477.3 361.67 481.8 361.80 484.0 361.92 488.7 362.05 486.9 362.17 475.0 362.30 486.8 362.43 467.8 362.55 483.4 362.68 468.8 362.80 472.7 362.93 483.3 363.05 478.1 363.18 469.9 363.30 475.8 363.43 478.4 363.55 469.4 363.68 479.6 363.80 482.7 363.93 476.3 364.05 482.0 364.18 486.6 364.30 479.5 364.43 487.7 364.55 482.1 364.68 485.8 364.80 483.9 364.93 483.2 365.05 484.3 365.18 486.7 365.30 469.3 365.43 480.5 365.55 465.0 365.68 483.0 365.80 471.7 365.93 484.8 366.05 482.2 366.18 470.7 366.30 481.2 366.43 477.9 366.55 488.9 366.68 478.8 366.80 464.5 366.93 475.6 367.05 484.1 367.18 484.8 367.30 454.4 367.43 473.9 367.55 484.8 367.68 484.2 367.80 487.5 367.93 481.5 368.05 481.8 368.18 482.3 368.30 484.1 368.43 484.5 368.55 485.9 368.68 477.1 368.80 461.7 368.93 471.8 369.05 468.3 369.18 468.4 369.30 468.5 369.43 469.1 369.55 478.2 369.68 468.7 369.80 478.6 369.93 482.2 370.05 479.3 370.18 479.3 370.30 485.3 370.43 476.5 370.55 486.3 370.68 477.7 370.80 482.5 370.93 476.4 371.05 477.4 371.18 471.6 371.30 469.9 371.43 485.0 371.55 484.9 371.68 486.1 371.80 468.3 371.93 482.4 372.05 477.5 372.18 463.9 372.30 484.5 372.43 468.6 372.55 483.5 372.68 481.0 372.80 486.7 372.93 473.9 373.05 477.5 373.18 467.0 373.30 477.8 373.43 484.2 373.55 484.8 373.68 470.3 373.80 479.8 373.93 489.2 374.05 477.0 374.18 478.5 374.30 471.3 374.43 488.6 374.55 479.4 374.68 484.8 374.80 477.9 374.93 475.9 375.05 480.1 375.18 487.1 375.30 481.7 375.43 479.7 375.55 481.1 375.68 481.9 375.80 489.0 375.93 482.8 376.05 481.2 376.18 477.9 376.30 483.1 376.43 486.0 376.55 488.0 376.68 477.0 376.80 486.3 376.93 481.2 377.05 482.4 377.18 469.2 377.30 486.0 377.43 482.2 377.55 474.7 377.68 482.9 377.80 485.1 377.93 487.5 378.05 489.5 378.18 482.1 378.30 487.6 378.43 482.7 378.55 479.8 378.68 484.7 378.80 471.4 378.93 486.4 379.05 447.4 379.18 480.4 379.30 467.9 379.43 467.9 379.55 482.2 379.68 488.5 379.80 476.5 379.93 474.4 380.05 486.8 380.18 482.6 380.30 488.5 380.43 489.2 380.55 473.6 380.68 485.0 380.80 451.9 380.93 472.9 381.05 465.8 381.18 487.0 381.30 489.0 381.43 487.5 381.55 481.4 381.68 484.8 381.80 485.9 381.93 461.7 382.05 489.4 382.18 489.6 382.30 486.8 382.43 483.7 382.55 483.5 382.68 485.0 382.80 481.4 382.93 485.7 383.05 488.0 383.18 489.0 383.31 487.3 383.43 488.1 383.56 479.6 383.68 472.9 383.81 479.7 383.93 482.6 384.06 471.1 384.18 482.1 384.31 481.7 384.43 489.3 384.56 480.1 384.68 465.9 384.81 474.1 384.93 486.4 385.06 482.1 385.18 478.6 385.31 482.3 385.43 479.0 385.56 478.6 385.68 482.8 385.81 484.8 385.93 484.2 386.06 474.1 386.18 466.6 386.31 473.8 386.43 472.2 386.56 486.8 386.68 473.6 386.81 481.9 386.93 487.3 387.06 470.5 387.18 471.0 387.31 481.4 387.43 484.5 387.56 488.6 387.68 479.1 387.81 488.9 387.93 479.6 388.06 484.0 388.18 485.5 388.31 483.6 388.43 476.2 388.56 485.7 388.68 472.3 388.81 477.2 388.93 485.9 389.06 483.6 389.18 478.1 389.31 472.8 389.43 488.7 389.56 476.1 389.68 477.5 389.81 489.0 389.93 487.4 390.06 471.0 390.18 486.9 390.31 486.0 390.43 489.5 390.56 477.3 390.68 488.9 390.81 488.9 390.93 474.4 391.06 488.1 391.18 481.6 391.31 449.6 391.43 484.0 391.56 470.1 391.68 471.2 391.81 481.5 391.93 469.0 392.06 481.7 392.18 484.2 392.31 477.7 392.43 487.6 392.56 487.4 392.68 480.4 392.81 475.5 392.93 471.5 393.06 483.5 393.18 480.9 393.31 479.1 393.43 472.8 393.56 485.4 393.68 481.7 393.81 467.5 393.93 483.4 394.06 447.4 394.18 472.6 394.31 475.8 394.43 467.6 394.56 488.6 394.68 476.1 394.81 476.7 394.93 479.8 395.06 487.0 395.18 481.8 395.31 477.5 395.43 465.1 395.56 488.7 395.68 485.9 395.81 489.1 395.93 475.6 396.06 483.7 396.18 482.6 396.31 473.9 396.43 473.8 396.56 488.2 396.68 469.2 396.81 465.9 396.93 465.6 397.06 472.2 397.18 476.1 397.31 486.8 397.43 470.8 397.56 485.3 397.68 463.7 397.81 487.1 397.93 476.6 398.06 488.4 398.18 478.6 398.31 484.9 398.43 487.7 398.56 468.1 398.68 483.2 398.81 460.3 398.93 479.7 399.06 486.0 399.18 478.0 399.31 489.0 399.43 487.5 399.56 478.1 399.68 485.3 399.81 485.0 399.93 483.2 400.06 483.1 400.18 471.6 400.31 483.1 400.43 488.5 400.56 484.4 400.68 474.2 400.81 488.9 400.93 472.5 401.06 485.4 401.18 486.7 401.31 481.2 401.43 488.5 401.56 483.2 401.68 471.1 401.81 486.4 401.93 482.1 402.06 470.0 402.18 482.4 402.31 488.8 402.43 477.3 402.56 485.5 402.68 483.1 402.81 477.2 402.93 486.2 403.06 488.9 403.18 475.1 403.31 474.6 403.43 488.3 403.56 488.7 403.68 452.1 403.81 478.3 403.93 488.4 404.06 467.5 404.19 485.9 404.31 478.6 404.44 475.9 404.56 487.4 404.69 489.3 404.81 465.7 404.94 473.5 405.06 477.4 405.19 479.0 405.31 483.2 405.44 472.7 405.56 485.0 405.69 484.1 405.81 487.0 405.94 477.1 406.06 473.0 406.19 464.1 406.31 487.7 406.44 475.8 406.56 484.9 406.69 481.9 406.81 478.7 406.94 476.6 407.06 447.0 407.19 472.7 407.31 481.3 407.44 477.6 407.56 479.6 407.69 479.8 407.81 487.5 407.94 475.9 408.06 472.3 408.19 480.4 408.31 487.9 408.44 485.5 408.56 484.0 408.69 484.8 408.81 488.9 408.94 488.0 409.06 481.9 409.19 487.6 409.31 489.1 409.44 486.6 409.56 489.6 409.69 481.6 409.81 482.0 409.94 486.5 410.06 477.3 410.19 488.7 410.31 488.7 410.44 481.1 410.56 477.6 410.69 474.5 410.81 489.3 410.94 476.2 411.06 466.6 411.19 476.7 411.31 481.9 411.44 485.2 411.56 472.1 411.69 479.9 411.81 467.8 411.94 487.8 412.06 485.5 412.19 468.5 412.31 472.9 412.44 476.7 412.56 463.6 412.69 484.5 412.81 481.1 412.94 478.7 413.06 489.2 413.19 473.2 413.31 474.4 413.44 489.3 413.56 483.9 413.69 487.7 413.81 479.3 413.94 449.0 414.06 485.7 414.19 482.9 414.31 488.9 414.44 480.7 414.56 485.9 414.69 485.3 414.81 480.4 414.94 481.0 415.06 466.7 415.19 488.9 415.31 462.3 415.44 475.4 415.56 483.4 415.69 483.4 415.81 482.8 415.94 486.7 416.06 475.4 416.19 471.3 416.31 488.3 416.44 479.0 416.56 473.5 416.69 483.9 416.81 473.1 416.94 469.4 417.06 477.8 417.19 456.0 417.31 488.4 417.44 481.4 417.56 469.8 417.69 471.9 417.81 480.0 417.94 451.5 418.06 487.2 418.19 484.9 418.31 481.7 418.44 478.3 418.56 480.3 418.69 487.8 418.81 475.6 418.94 469.3 419.06 486.6 419.19 482.5 419.31 478.2 419.44 482.1 419.56 476.5 419.69 486.3 419.81 481.5 419.94 472.2 420.06 475.9 420.19 488.0 420.31 487.2 420.44 486.6 420.56 477.7 420.69 482.1 420.81 474.2 420.94 484.0 421.06 488.0 421.19 481.7 421.31 473.4 421.44 476.1 421.56 488.5 421.69 477.0 421.81 472.1 421.94 473.8 422.06 480.7 422.19 486.4 422.31 488.2 422.44 480.0 422.56 472.5 422.69 481.6 422.81 482.9 422.94 489.5 423.06 477.6 423.19 469.7 423.31 485.7 423.44 479.6 423.56 482.4 423.69 481.7 423.81 469.4 423.94 485.5 424.06 480.6 424.19 488.7 424.31 489.3 424.44 480.8 424.56 472.5 424.69 461.7 424.81 487.0 424.94 468.2 425.07 488.4 425.19 477.2 425.32 488.1 425.44 480.6 425.57 485.7 425.69 484.5 425.82 463.3 425.94 475.3 426.07 487.3 426.19 479.2 426.32 486.6 426.44 474.4 426.57 482.1 426.69 481.5 426.82 468.8 426.94 461.7 427.07 477.5 427.19 470.1 427.32 482.4 427.44 489.4 427.57 461.7 427.69 480.4 427.82 480.3 427.94 486.6 428.07 488.1 428.19 484.6 428.32 473.8 428.44 461.7 428.57 482.9 428.69 482.6 428.82 476.0 428.94 469.3 429.07 470.7 429.19 470.3 429.32 489.2 429.44 469.5 429.57 471.7 429.69 483.9 429.82 474.5 429.94 488.8 430.07 451.5 430.19 483.5 430.32 480.3 430.44 471.7 430.57 478.3 430.69 485.3 430.82 487.0 430.94 485.7 431.07 478.5 431.19 463.0 431.32 480.1 431.44 487.1 431.57 478.6 431.69 473.8 431.82 472.5 431.94 488.7 432.07 483.6 432.19 481.4 432.32 486.4 432.44 461.7 432.57 463.5 432.69 468.7 432.82 485.5 432.94 481.9 433.07 481.1 433.19 475.9 433.32 489.1 433.44 487.8 433.57 473.1 433.69 476.6 433.82 479.8 433.94 486.3 434.07 478.6 434.19 461.7 434.32 472.4 434.44 488.7 434.57 469.8 434.69 484.5 434.82 476.3 434.94 481.4 435.07 471.1 435.19 482.8 435.32 482.9 435.44 487.1 435.57 479.1 435.69 477.4 435.82 486.7 435.94 484.0 436.07 476.7 436.19 484.8 436.32 478.8 436.44 489.0 436.57 475.9 436.69 475.4 436.82 482.3 436.94 476.1 437.07 488.7 437.19 469.1 437.32 481.8 437.44 461.7 437.57 480.5 437.69 479.3 437.82 486.4 437.94 477.1 438.07 484.8 438.19 483.9 438.32 451.2 438.44 461.7 438.57 481.9 438.69 484.7 438.82 487.0 438.94 476.6 439.07 489.4 439.19 486.3 439.32 481.1 439.44 487.3 439.57 482.6 439.69 487.1 439.82 468.9 439.94 488.5 440.07 475.9 440.19 487.4 440.32 480.6 440.44 474.7 440.57 485.1 440.69 486.1 440.82 486.1 440.94 463.6 441.07 472.4 441.19 484.6 441.32 488.3 441.44 487.1 441.57 489.1 441.69 478.3 441.82 464.9 441.94 485.9 442.07 487.5 442.19 475.4 442.32 474.6 442.44 483.3 442.57 472.8 442.69 446.1 442.82 462.9" stroke="#585858" stroke-width="0.6" fill="none" stroke-linejoin="bevel"/><path d="M442.82 462.9 442.94 484.5 443.07 448.0 443.19 428.7 443.32 399.5 443.44 372.1 443.57 383.7 443.69 485.0 443.82 485.0 443.94 438.4 444.07 452.8 444.19 473.6 444.32 443.5 444.44 450.1 444.57 417.1 444.69 488.8 444.82 468.0 444.94 385.3 445.07 471.1 445.19 390.6 445.32 477.1 445.44 441.2 445.57 483.5 445.70 481.6 445.82 488.9 445.95 413.6 446.07 412.6 446.20 375.5 446.32 436.2 446.45 460.9 446.57 451.1 446.70 420.6 446.82 402.6 446.95 484.2 447.07 476.1 447.20 439.0 447.32 405.3 447.45 488.1 447.57 463.6 447.70 450.1 447.82 451.7 447.95 464.4 448.07 464.5 448.20 458.0 448.32 475.1 448.45 474.0 448.57 402.8 448.70 455.2 448.82 456.1 448.95 468.5 449.07 479.5 449.20 462.2 449.32 445.6 449.45 388.8 449.57 450.4 449.70 464.4 449.82 440.6 449.95 439.1 450.07 475.1 450.20 434.1 450.32 484.7 450.45 457.3 450.57 471.1 450.70 418.6 450.82 382.0 450.95 455.8 451.07 474.8 451.20 437.5 451.32 408.7 451.45 435.9 451.57 468.2 451.70 461.1 451.82 476.7 451.95 402.4 452.07 477.1 452.20 479.8 452.32 452.4 452.45 465.3 452.57 440.1 452.70 482.3 452.82 475.0 452.95 417.7 453.07 487.3 453.20 465.0 453.32 407.3 453.45 464.4 453.57 485.8 453.70 442.7 453.82 438.4 453.95 424.0 454.07 475.4 454.20 454.1 454.32 418.1 454.45 440.6 454.57 444.6 454.70 369.5 454.82 453.7 454.95 444.8 455.07 452.7 455.20 480.1 455.32 476.7 455.45 473.9 455.57 422.4 455.70 476.1 455.82 454.9 455.95 460.1 456.07 439.6 456.20 436.1 456.32 477.4 456.45 482.8 456.57 488.6 456.70 452.2 456.82 478.3 456.95 413.2 457.07 442.2 457.20 451.5 457.32 480.9 457.45 480.7 457.57 459.5 457.70 459.5 457.82 483.2 457.95 445.4 458.07 454.6 458.20 451.7 458.32 401.6 458.45 466.2 458.57 452.2 458.70 488.2 458.82 416.7 458.95 389.2 459.07 447.1 459.20 416.3 459.32 457.3 459.45 423.4 459.57 447.6 459.70 427.0 459.82 418.1 459.95 426.5 460.07 485.4 460.20 480.5 460.32 352.7 460.45 444.5 460.57 451.2 460.70 469.8 460.82 450.8 460.95 488.4 461.07 436.9 461.20 451.8 461.32 372.7 461.45 341.8 461.57 470.8 461.70 481.9 461.82 350.5 461.95 467.4 462.07 466.9 462.20 440.5 462.32 485.2 462.45 479.8 462.57 449.4 462.70 447.5 462.82 368.5 462.95 430.1 463.07 453.2 463.20 426.6 463.32 483.4 463.45 275.2 463.57 483.0 463.70 485.0 463.82 468.8 463.95 485.3 464.07 474.2 464.20 406.2 464.32 485.7 464.45 456.3 464.57 456.2 464.70 442.7 464.82 430.3 464.95 463.0 465.07 419.3 465.20 470.2 465.32 415.8 465.45 387.4 465.57 485.6 465.70 473.1 465.82 456.6 465.95 444.9 466.07 458.8 466.20 461.3 466.32 397.8 466.45 468.3 466.58 483.0 466.70 422.2 466.83 483.7 466.95 486.0 467.08 449.9 467.20 482.0 467.33 475.7 467.45 463.4 467.58 468.8 467.70 460.9 467.83 463.4 467.95 392.8 468.08 478.1 468.20 469.6 468.33 432.6 468.45 404.0 468.58 477.8 468.70 451.6 468.83 366.4 468.95 411.1 469.08 432.7 469.20 439.5 469.33 386.6 469.45 418.5 469.58 465.5 469.70 475.5 469.83 463.2 469.95 410.7 470.08 361.6 470.20 473.4 470.33 459.5 470.45 476.1 470.58 447.0 470.70 468.0 470.83 487.6 470.95 484.3 471.08 457.7 471.20 447.3 471.33 458.3 471.45 421.7 471.58 430.9 471.70 474.8 471.83 478.4 471.95 451.0 472.08 476.8 472.20 422.6 472.33 402.9 472.45 476.9 472.58 406.8 472.70 406.8 472.83 379.6 472.95 476.7 473.08 433.6 473.20 487.4 473.33 334.0 473.45 474.0 473.58 488.8 473.70 302.5 473.83 455.6 473.95 470.7 474.08 483.4 474.20 430.4 474.33 456.5 474.45 453.4 474.58 472.8 474.70 396.8 474.83 429.2 474.95 478.3 475.08 406.4 475.20 463.1 475.33 467.9 475.45 227.6 475.58 422.4 475.70 426.6 475.83 453.7 475.95 405.1 476.08 346.9 476.20 453.4 476.33 417.1 476.45 474.8 476.58 468.6 476.70 440.3 476.83 417.1 476.95 393.2 477.08 379.3 477.20 440.4 477.33 476.6 477.45 36.2 477.58 489.4 477.70 392.2 477.83 472.9 477.95 470.6 478.08 424.8 478.20 420.2 478.33 480.1 478.45 408.0 478.58 480.8 478.70 487.4 478.83 265.4 478.95 407.7 479.08 414.0 479.20 437.8 479.33 340.1 479.45 433.6 479.58 452.3 479.70 470.8 479.83 472.2 479.95 433.6 480.08 487.8 480.20 468.8 480.33 379.9 480.45 434.1 480.58 474.7 480.70 375.6 480.83 390.2 480.95 485.1 481.08 480.4 481.20 388.5 481.33 453.7 481.45 486.7 481.58 406.4 481.70 405.0 481.83 430.1 481.95 456.5 482.08 346.6 482.20 434.5 482.33 443.0 482.45 467.0 482.58 436.9 482.70 464.3 482.83 421.4 482.95 407.2 483.08 472.7 483.20 477.4 483.33 469.2 483.45 281.1 483.58 423.3 483.70 426.1 483.83 333.0 483.95 411.5 484.08 462.4 484.20 465.3 484.33 446.1 484.45 427.2 484.58 257.3 484.70 467.5 484.83 279.9 484.95 424.9 485.08 423.2 485.20 395.9 485.33 447.7 485.45 482.7 485.58 390.5 485.70 352.8 485.83 459.3 485.95 451.0 486.08 457.1 486.20 434.8 486.33 449.5 486.45 310.0 486.58 320.2 486.70 451.3 486.83 427.7 486.95 437.0 487.08 465.1 487.20 413.6 487.33 461.4 487.46 485.6 487.58 473.9 487.71 366.1 487.83 455.7 487.96 468.8 488.08 476.2 488.21 318.8 488.33 381.2 488.46 414.8 488.58 397.8 488.71 480.6 488.83 423.5 488.96 418.9 489.08 381.2 489.21 405.2 489.33 461.5 489.46 399.7 489.58 378.7 489.71 488.1 489.83 446.1 489.96 380.2 490.08 440.5 490.21 454.1 490.33 377.8 490.46 219.4 490.58 366.2 490.71 457.1 490.83 470.3 490.96 445.8 491.08 483.7 491.21 408.2 491.33 409.8 491.46 395.4 491.58 281.8 491.71 395.8 491.83 479.5 491.96 400.0 492.08 446.7 492.21 405.8 492.33 420.8 492.46 463.1 492.58 478.2 492.71 246.0 492.83 412.6 492.96 479.1 493.08 367.4 493.21 376.6 493.33 410.0 493.46 477.0 493.58 265.5 493.71 397.2 493.83 426.8 493.96 450.8 494.08 408.4 494.21 420.3 494.33 356.5 494.46 385.1 494.58 391.2 494.71 463.3 494.83 389.4 494.96 473.9 495.08 255.9 495.21 333.3 495.33 443.5 495.46 456.8 495.58 404.0 495.71 448.7 495.83 457.8 495.96 347.5 496.08 395.0 496.21 335.8 496.33 305.4 496.46 251.6 496.58 380.7 496.71 485.7 496.83 396.2 496.96 469.6 497.08 423.7 497.21 428.9 497.33 310.9 497.46 317.1 497.58 273.7 497.71 477.8 497.83 466.7 497.96 442.5 498.08 398.8 498.21 413.3 498.33 402.1 498.46 356.8 498.58 412.8 498.71 460.3 498.83 414.9 498.96 307.1 499.08 473.0 499.21 375.3 499.33 457.8 499.46 421.3 499.58 483.9 499.71 469.1 499.83 451.0 499.96 487.2 500.08 471.6 500.21 314.6 500.33 339.5 500.46 189.4 500.58 401.2 500.71 430.7 500.83 263.8 500.96 438.5 501.08 369.6 501.21 471.8 501.33 456.4 501.46 474.0 501.58 327.1 501.71 373.8 501.83 398.8 501.96 378.4 502.08 487.8 502.21 360.0 502.33 445.7 502.46 464.2 502.58 333.8 502.71 487.5 502.83 412.7 502.96 404.0 503.08 459.6 503.21 478.0 503.33 487.0 503.46 412.6 503.58 332.3 503.71 299.0 503.83 486.7 503.96 435.8 504.08 489.1 504.21 481.2 504.33 432.3 504.46 176.8 504.58 440.6 504.71 443.4 504.83 412.5 504.96 408.1 505.08 402.9 505.21 461.6 505.33 392.3 505.46 400.8 505.58 383.9 505.71 370.3 505.83 486.1 505.96 435.6 506.08 394.9 506.21 483.6 506.33 402.8 506.46 482.3 506.58 431.2 506.71 382.6 506.83 458.6 506.96 406.0 507.08 436.7 507.21 486.9 507.33 434.4 507.46 439.0 507.58 424.4 507.71 414.0 507.83 452.8 507.96 385.4 508.08 442.7 508.21 460.4 508.34 469.4 508.46 431.3 508.59 464.0 508.71 401.4 508.84 481.8 508.96 398.4 509.09 362.2 509.21 388.5 509.34 437.7 509.46 258.0 509.59 437.7 509.71 348.9 509.84 355.2 509.96 463.2 510.09 301.1 510.21 331.3 510.34 417.9 510.46 453.2 510.59 463.3 510.71 299.9 510.84 455.7 510.96 428.6 511.09 482.8 511.21 488.6 511.34 468.1 511.46 474.9 511.59 376.9 511.71 476.6 511.84 366.1 511.96 473.2 512.09 451.6 512.21 484.9 512.34 347.1 512.46 300.3 512.59 351.0 512.71 376.6 512.84 393.9 512.96 382.4 513.09 332.4 513.21 448.7 513.34 451.1 513.46 483.2 513.59 398.0 513.71 433.2 513.84 489.1 513.96 472.5 514.09 388.9 514.21 416.7 514.34 381.1 514.46 219.4 514.59 395.2 514.71 353.1 514.84 423.1 514.96 485.0 515.09 283.6 515.21 480.3 515.34 389.5 515.46 414.2 515.59 466.8 515.71 379.1 515.84 349.3 515.96 418.5 516.09 379.2 516.21 449.5 516.34 239.8 516.46 462.4 516.59 468.4 516.71 461.1 516.84 472.8 516.96 410.1 517.09 379.1 517.21 447.4 517.34 239.1 517.46 418.8 517.59 488.2 517.71 400.5 517.84 489.2 517.96 431.3 518.09 387.6 518.21 399.5 518.34 443.1 518.46 450.1 518.59 482.8 518.71 237.9 518.84 464.1 518.96 456.4 519.09 384.7 519.21 427.3 519.34 488.4 519.46 249.5 519.59 487.0 519.71 265.6 519.84 383.8 519.96 444.6 520.09 339.4 520.21 283.0 520.34 461.5 520.46 449.9 520.59 484.3 520.71 459.3 520.84 344.3 520.96 408.4 521.09 374.3 521.21 444.4 521.34 438.0 521.46 243.0 521.59 484.8 521.71 419.8 521.84 449.8 521.96 296.9 522.09 272.8 522.21 475.2 522.34 260.6 522.46 386.0 522.59 392.4 522.71 402.5 522.84 431.5 522.96 486.3 523.09 400.1 523.21 449.9 523.34 469.5 523.46 484.0 523.59 415.7 523.71 356.5 523.84 465.6 523.96 399.7 524.09 370.3 524.21 484.5 524.34 478.4 524.46 446.8 524.59 302.9 524.71 474.3 524.84 236.3 524.96 385.1 525.09 474.3 525.21 482.1 525.34 383.6 525.46 451.5 525.59 453.0 525.71 365.7 525.84 445.0 525.96 367.3 526.09 420.9 526.21 422.7 526.34 371.6 526.46 387.5 526.59 476.1 526.71 468.9 526.84 280.6 526.96 371.5 527.09 449.9 527.21 469.3 527.34 467.0 527.46 247.3 527.59 481.4 527.71 466.4 527.84 459.2 527.96 432.0 528.09 463.6 528.21 459.3 528.34 332.8 528.46 332.0 528.59 341.9 528.71 379.0 528.84 452.6 528.96 387.2 529.09 470.4 529.22 411.8 529.34 460.6 529.47 470.9 529.59 484.8 529.72 485.9 529.84 385.5 529.97 453.6 530.09 478.3 530.22 459.2 530.34 454.4 530.47 487.2 530.59 320.5 530.72 468.7 530.84 475.6 530.97 461.4 531.09 406.3 531.22 415.6 531.34 481.1 531.47 476.3 531.59 473.5 531.72 419.1 531.84 411.4 531.97 412.8 532.09 376.8 532.22 430.6 532.34 308.3 532.47 160.4 532.59 433.3 532.72 458.8 532.84 483.0 532.97 409.6 533.09 458.7 533.22 334.5 533.34 383.8 533.47 483.7 533.59 301.6 533.72 338.3 533.84 473.6 533.97 438.4 534.09 427.5 534.22 449.7 534.34 447.2 534.47 392.1 534.59 444.2 534.72 306.6 534.84 451.6 534.97 360.0 535.09 404.4 535.22 487.4 535.34 419.8 535.47 229.4 535.59 483.7 535.72 482.2 535.84 474.3 535.97 399.3 536.09 417.6 536.22 364.0 536.34 381.9 536.47 346.0 536.59 453.9 536.72 479.2 536.84 447.4 536.97 448.2 537.09 433.1 537.22 409.7 537.34 294.4 537.47 488.6 537.59 379.8 537.72 375.2 537.84 437.5 537.97 375.5 538.09 487.8 538.22 487.5 538.34 423.5 538.47 233.7 538.59 472.5 538.72 295.6 538.84 416.9 538.97 324.7 539.09 319.4 539.22 450.9 539.34 478.2 539.47 471.3 539.59 474.8 539.72 480.5 539.84 413.0 539.97 480.3 540.09 475.8 540.22 452.0 540.34 421.0 540.47 468.0 540.59 428.9 540.72 432.8 540.84 423.6 540.97 440.3 541.09 477.6 541.22 461.5 541.34 394.9 541.47 378.6 541.59 417.7 541.72 487.5 541.84 409.4 541.97 465.8 542.09 436.2 542.22 486.5 542.34 352.3 542.47 377.4 542.59 413.5 542.72 431.4 542.84 431.3 542.97 417.1 543.09 345.7 543.22 409.0 543.34 448.2 543.47 419.4 543.59 322.3 543.72 459.3 543.84 384.8 543.97 420.9 544.09 385.8 544.22 477.2 544.34 355.1 544.47 423.0 544.59 339.1 544.72 480.8 544.84 474.1 544.97 455.4 545.09 482.9 545.22 290.4 545.34 342.7 545.47 255.0 545.59 484.9 545.72 446.2 545.84 448.9 545.97 397.3 546.09 370.2 546.22 431.6 546.34 424.4 546.47 479.2 546.59 462.4 546.72 344.7 546.84 380.5 546.97 428.6 547.09 399.4 547.22 412.7 547.34 413.7 547.47 468.9 547.59 478.1 547.72 299.8 547.84 421.3 547.97 474.1 548.09 386.5 548.22 452.9 548.34 316.2 548.47 482.5 548.59 337.5 548.72 440.9 548.84 328.9 548.97 466.8 549.09 347.6 549.22 405.7 549.34 339.0 549.47 430.6 549.59 414.8 549.72 386.3 549.84 485.0 549.97 369.5 550.10 423.3 550.22 236.3 550.35 459.8 550.47 255.0 550.60 347.7 550.72 241.1 550.85 349.1 550.97 468.4 551.10 442.1 551.22 414.4 551.35 476.5 551.47 387.6 551.60 373.7 551.72 437.2 551.85 402.8 551.97 380.0 552.10 463.8 552.22 354.2 552.35 350.5 552.47 415.8 552.60 461.9 552.72 435.3 552.85 420.1 552.97 376.4 553.10 375.0 553.22 299.1 553.35 333.3 553.47 441.8 553.60 459.3 553.72 443.1 553.85 303.1 553.97 329.0 554.10 440.1 554.22 327.6 554.35 479.7 554.47 380.6 554.60 485.8 554.72 384.1 554.85 346.6 554.97 415.3 555.10 394.9 555.22 401.0 555.35 457.0 555.47 182.9 555.60 447.2 555.72 378.8 555.85 330.2 555.97 454.3 556.10 374.6 556.22 480.7 556.35 388.6 556.47 468.0 556.60 455.9 556.72 483.3 556.85 332.3 556.97 452.2 557.10 429.2 557.22 465.0 557.35 482.2 557.47 475.8 557.60 398.7 557.72 375.9 557.85 466.8 557.97 470.4 558.10 488.7 558.22 461.1 558.35 404.4 558.47 225.0 558.60 455.7 558.72 466.1 558.85 471.0 558.97 409.1 559.10 375.9 559.22 376.9 559.35 470.1 559.47 426.2 559.60 474.7 559.72 406.0 559.85 484.2 559.97 486.2 560.10 362.0 560.22 360.9 560.35 445.4 560.47 377.2 560.60 351.9 560.72 470.6 560.85 469.3 560.97 441.8 561.10 371.0 561.22 446.7 561.35 400.3 561.47 370.4 561.60 484.8 561.72 466.9 561.85 468.9 561.97 322.3 562.10 395.2 562.22 395.8 562.35 369.3 562.47 382.8 562.60 340.5 562.72 387.7 562.85 454.4 562.97 296.9 563.10 399.2 563.22 459.0 563.35 420.8 563.47 226.5 563.60 463.4 563.72 364.4 563.85 426.2 563.97 468.9 564.10 388.8 564.22 456.6 564.35 426.6 564.47 415.8 564.60 481.6 564.72 443.8 564.85 364.4 564.97 404.9 565.10 396.4 565.22 471.2 565.35 458.8 565.47 365.1 565.60 420.2 565.72 362.1 565.85 436.1 565.97 453.5 566.10 469.7 566.22 461.0 566.35 471.3 566.47 437.3 566.60 376.9 566.72 485.2 566.85 368.5 566.97 412.5 567.10 476.6 567.22 394.9 567.35 406.8 567.47 446.7 567.60 461.1 567.72 415.9 567.85 486.0 567.97 478.1 568.10 466.2 568.22 341.9 568.35 374.8 568.47 476.1 568.60 478.6 568.72 386.3 568.85 474.0 568.97 297.9 569.10 439.4 569.22 474.2 569.35 453.2 569.47 378.9 569.60 489.6 569.72 413.3 569.85 350.7 569.97 411.7 570.10 472.4 570.22 452.3 570.35 417.9 570.47 455.4 570.60 306.8 570.72 415.9 570.85 307.8 570.98 470.0 571.10 440.0 571.23 425.6 571.35 353.9 571.48 447.8 571.60 371.1 571.73 463.2 571.85 394.5 571.98 387.5 572.10 481.8 572.23 432.2 572.35 423.7 572.48 479.7 572.60 472.9 572.73 457.3 572.85 423.8 572.98 434.7 573.10 372.5 573.23 323.8 573.35 473.4 573.48 482.2 573.60 489.2 573.73 426.1 573.85 407.8 573.98 407.9 574.10 415.7 574.23 368.9 574.35 390.1 574.48 456.4 574.60 412.5 574.73 391.3 574.85 463.5 574.98 448.5 575.10 392.8 575.23 388.3 575.35 470.2 575.48 452.6 575.60 472.2 575.73 432.5 575.85 411.8 575.98 318.7 576.10 388.5 576.23 443.4 576.35 293.9 576.48 429.1 576.60 488.6 576.73 479.3 576.85 304.0 576.98 390.4 577.10 403.4 577.23 461.4 577.35 236.3 577.48 267.0 577.60 308.6 577.73 438.5 577.85 468.5 577.98 480.5 578.10 339.7 578.23 447.2 578.35 474.2 578.48 459.1 578.60 435.1 578.73 368.7 578.85 418.2 578.98 357.1 579.10 476.3 579.23 298.8 579.35 389.1 579.48 425.0 579.60 453.6 579.73 395.7 579.85 415.2 579.98 478.6 580.10 426.3 580.23 393.0 580.35 409.6 580.48 488.8 580.60 405.6 580.73 290.4 580.85 445.9 580.98 443.0 581.10 354.4 581.23 471.0 581.35 418.7 581.48 400.5 581.60 435.2 581.73 399.3 581.85 390.7 581.98 462.1 582.10 400.1 582.23 353.8 582.35 398.2 582.48 448.3 582.60 383.6 582.73 470.2 582.85 393.8 582.98 431.7 583.10 477.7 583.23 366.7 583.35 489.5 583.48 196.5 583.60 482.3 583.73 412.0 583.85 413.3 583.98 340.4 584.10 414.3 584.23 455.6 584.35 413.9 584.48 362.9 584.60 308.5 584.73 393.6 584.85 421.5 584.98 359.1 585.10 408.5 585.23 411.9 585.35 422.1 585.48 479.9 585.60 460.5 585.73 439.7 585.85 438.3 585.98 483.2 586.10 466.1 586.23 379.0 586.35 421.3 586.48 389.1 586.60 382.8 586.73 432.8 586.85 272.5 586.98 459.0 587.10 399.8 587.23 418.6 587.35 472.0 587.48 404.7 587.60 295.8 587.73 454.9 587.85 445.0 587.98 444.6 588.10 411.8 588.23 377.6 588.35 469.7 588.48 461.1 588.60 471.0 588.73 318.1 588.85 457.6 588.98 432.0 589.10 486.5 589.23 359.6 589.35 489.3 589.48 183.6 589.60 450.1 589.73 316.0 589.85 408.3 589.98 385.1 590.10 389.7 590.23 363.7 590.35 408.1 590.48 358.1 590.60 317.6 590.73 319.8 590.85 405.0 590.98 442.8 591.10 457.1 591.23 435.7 591.35 460.8 591.48 475.8 591.60 483.9 591.73 312.3 591.86 288.7 591.98 487.0 592.11 455.9 592.23 410.8 592.36 470.2 592.48 478.3 592.61 353.9 592.73 308.5 592.86 399.4 592.98 331.2 593.11 317.2 593.23 369.4 593.36 474.6 593.48 448.0 593.61 301.3 593.73 371.3 593.86 427.3 593.98 487.2 594.11 413.3 594.23 236.3 594.36 371.6 594.48 22.3 594.61 368.1 594.73 332.7 594.86 337.9 594.98 310.4 595.11 446.9 595.23 469.9 595.36 446.8 595.48 396.9 595.61 397.6 595.73 309.7 595.86 401.4 595.98 388.3 596.11 480.5 596.23 345.8 596.36 381.7 596.48 402.8 596.61 488.5 596.73 483.1 596.86 363.5 596.98 445.8 597.11 451.3 597.23 424.9 597.36 481.9 597.48 345.2 597.61 437.4 597.73 366.1 597.86 383.2 597.98 438.8 598.11 421.7 598.23 397.7 598.36 347.7 598.48 340.6 598.61 376.1 598.73 471.0 598.86 473.1 598.98 487.4 599.11 448.2 599.23 460.2 599.36 393.8 599.48 264.5 599.61 465.9 599.73 485.3 599.86 456.8 599.98 456.8 600.11 389.1 600.23 424.6 600.36 357.5 600.48 436.8 600.61 334.8 600.73 472.8 600.86 465.7 600.98 402.7 601.11 433.2 601.23 463.5 601.36 445.4 601.48 485.1 601.61 365.7 601.73 474.9 601.86 361.0 601.98 455.3 602.11 366.4 602.23 447.6 602.36 406.7 602.48 404.6 602.61 449.3 602.73 464.9 602.86 469.5 602.98 341.4 603.11 486.8 603.23 446.1 603.36 395.5 603.48 392.8 603.61 400.2 603.73 412.6 603.86 370.4 603.98 454.8 604.11 486.3 604.23 480.2 604.36 486.5 604.48 303.9 604.61 448.5 604.73 312.9 604.86 346.6 604.98 482.3 605.11 427.7 605.23 485.7 605.36 418.6 605.48 466.3 605.61 447.7 605.73 343.3 605.86 464.4 605.98 450.1 606.11 459.0 606.23 471.4 606.36 423.9 606.48 293.8 606.61 429.0 606.73 472.8 606.86 465.3 606.98 485.8 607.11 457.8 607.23 424.8 607.36 385.7 607.48 477.3 607.61 387.3 607.73 426.1 607.86 337.8 607.98 312.5 608.11 477.2 608.23 464.0 608.36 329.9 608.48 406.6 608.61 377.4 608.73 417.3 608.86 331.9 608.98 367.4 609.11 468.9 609.23 400.7 609.36 373.2 609.48 481.7 609.61 477.7 609.73 367.6 609.86 475.7 609.98 441.1 610.11 420.5 610.23 428.0 610.36 364.4 610.48 424.9 610.61 485.5 610.73 449.7 610.86 417.8 610.98 339.4 611.11 343.8 611.23 430.3 611.36 436.2 611.48 482.6 611.61 470.3 611.73 298.7 611.86 465.3 611.98 349.1 612.11 392.8 612.23 373.6 612.36 463.4 612.49 435.5 612.61 348.0 612.74 363.1 612.86 438.2 612.99 475.3 613.11 458.9 613.24 451.8 613.36 484.6 613.49 486.5 613.61 474.7 613.74 376.0 613.86 468.7 613.99 440.1 614.11 417.0 614.24 410.9 614.36 409.9 614.49 397.2 614.61 397.5 614.74 481.6 614.86 388.4 614.99 439.7 615.11 401.5 615.24 480.4 615.36 486.0 615.49 484.2 615.61 411.0 615.74 437.2 615.86 424.3 615.99 417.5 616.11 459.8 616.24 369.6 616.36 434.7 616.49 454.9 616.61 446.5 616.74 477.7 616.86 382.3 616.99 471.9 617.11 434.7 617.24 477.6 617.36 427.4 617.49 416.2 617.61 320.6 617.74 440.6 617.86 417.1 617.99 484.5 618.11 352.1 618.24 466.5 618.36 469.7 618.49 489.6 618.61 473.9 618.74 432.3 618.86 450.2 618.99 427.7 619.11 470.7 619.24 460.2 619.36 328.9 619.49 368.7 619.61 392.9 619.74 468.1 619.86 388.6 619.99 488.2 620.11 339.7 620.24 410.3 620.36 470.4 620.49 457.1 620.61 468.3 620.74 358.2 620.86 480.0 620.99 411.0 621.11 337.2 621.24 288.8 621.36 365.8 621.49 487.5 621.61 365.7 621.74 472.0 621.86 333.4 621.99 482.6 622.11 340.7 622.24 386.2 622.36 394.0 622.49 158.6 622.61 357.2 622.74 457.4 622.86 353.0 622.99 443.6 623.11 409.1 623.24 488.1 623.36 425.6 623.49 388.3 623.61 483.1 623.74 401.9 623.86 488.3 623.99 435.7 624.11 384.4 624.24 458.3 624.36 444.7 624.49 440.5 624.61 451.7 624.74 461.9 624.86 368.7 624.99 376.3 625.11 400.1 625.24 443.5 625.36 427.3 625.49 433.5 625.61 413.7 625.74 414.1 625.86 469.3 625.99 441.9 626.11 467.7 626.24 468.0 626.36 476.0 626.49 359.7 626.61 446.5 626.74 430.9 626.86 478.1 626.99 479.2 627.11 436.8 627.24 396.0 627.36 435.9 627.49 448.2 627.61 408.6 627.74 475.9 627.86 478.0 627.99 444.8 628.11 438.2 628.24 455.8 628.36 459.7 628.49 470.6 628.61 418.4 628.74 419.9 628.86 451.6 628.99 461.7 629.11 350.5 629.24 452.4 629.36 465.7 629.49 267.0 629.61 443.3 629.74 445.5 629.86 404.1 629.99 425.3 630.11 346.5 630.24 449.1 630.36 461.2 630.49 431.9 630.61 467.2 630.74 473.9 630.86 439.4 630.99 429.7 631.11 456.4 631.24 459.7 631.36 432.9 631.49 391.3 631.61 466.9 631.74 389.4 631.86 420.1 631.99 462.2 632.11 440.3 632.24 451.6 632.36 392.2 632.49 461.7 632.61 421.5 632.74 408.3 632.86 463.0 632.99 468.3 633.11 389.0 633.24 410.5 633.37 389.0 633.49 464.8 633.62 401.8 633.74 349.4 633.87 458.0 633.99 485.7 634.12 435.9 634.24 477.9 634.37 459.2 634.49 350.1 634.62 362.3 634.74 472.8 634.87 328.6 634.99 466.4 635.12 477.2 635.24 416.5 635.37 442.1 635.49 489.3 635.62 345.9 635.74 304.6 635.87 461.0 635.99 343.8 636.12 358.5 636.24 397.0 636.37 369.3 636.49 437.1 636.62 410.1 636.74 480.3 636.87 477.3 636.99 468.7 637.12 338.7 637.24 477.5 637.37 464.0 637.49 487.5 637.62 389.2 637.74 450.8 637.87 443.2 637.99 429.5 638.12 480.6 638.24 440.8 638.37 396.9 638.49 426.5 638.62 481.9 638.74 441.7 638.87 393.7 638.99 431.4 639.12 433.8 639.24 464.3 639.37 372.2 639.49 483.6 639.62 473.9 639.74 473.1 639.87 460.8 639.99 396.3 640.12 396.7 640.24 428.1 640.37 419.9 640.49 297.4 640.62 437.4 640.74 484.4 640.87 466.3 640.99 458.7 641.12 446.4 641.24 423.0 641.37 444.0 641.49 479.4 641.62 402.7 641.74 438.5 641.87 444.5 641.99 468.2 642.12 419.3 642.24 351.1 642.37 380.6 642.49 460.1 642.62 466.8 642.74 460.0 642.87 462.8 642.99 483.0 643.12 484.4 643.24 386.0 643.37 464.7 643.49 460.1 643.62 444.6 643.74 462.4 643.87 403.7 643.99 376.7 644.12 453.0 644.24 411.7 644.37 456.2 644.49 469.3 644.62 425.0 644.74 460.1 644.87 476.8 644.99 396.5 645.12 474.2 645.24 446.1 645.37 420.0 645.49 430.3 645.62 381.3 645.74 444.7 645.87 327.2 645.99 481.7 646.12 320.4 646.24 412.2 646.37 452.6 646.49 427.8 646.62 429.9 646.74 434.7 646.87 461.6 646.99 454.3 647.12 408.9 647.24 446.0 647.37 428.9 647.49 405.7 647.62 343.5 647.74 477.7 647.87 415.8 647.99 444.4 648.12 430.0 648.24 474.0 648.37 444.3 648.49 478.6 648.62 446.0 648.74 380.3 648.87 470.6 648.99 473.1 649.12 471.1 649.24 327.1 649.37 436.1 649.49 385.7 649.62 458.6 649.74 450.8 649.87 427.6 649.99 399.1 650.12 357.5 650.24 326.3 650.37 364.6 650.49 464.6 650.62 420.8 650.74 367.6 650.87 421.9 650.99 460.4 651.12 444.7 651.24 377.7 651.37 458.8 651.49 435.2 651.62 420.7 651.74 467.5 651.87 421.7 651.99 375.8 652.12 486.2 652.24 374.7 652.37 467.4 652.49 398.7 652.62 435.9 652.74 464.0 652.87 416.0 652.99 451.8 653.12 470.6 653.24 458.1 653.37 475.9 653.49 388.8 653.62 332.6 653.74 444.6 653.87 460.8 653.99 416.3 654.12 458.6 654.25 402.7 654.37 402.1 654.50 422.8 654.62 445.0 654.75 476.4 654.87 397.9 655.00 424.8 655.12 470.9 655.25 479.8 655.37 447.7 655.50 420.8 655.62 460.8 655.75 447.5 655.87 462.2 656.00 468.9 656.12 479.6 656.25 430.6 656.37 431.4 656.50 473.0 656.62 430.4 656.75 431.1 656.87 441.6 657.00 396.9 657.12 408.9 657.25 457.1 657.37 469.7 657.50 445.3 657.62 453.7 657.75 439.7 657.87 436.2 658.00 414.1 658.12 450.2 658.25 488.7 658.37 473.2 658.50 468.6 658.62 473.5 658.75 434.0 658.87 444.9 659.00 437.5 659.12 414.3 659.25 474.1 659.37 408.4 659.50 459.4 659.62 461.1 659.75 450.1 659.87 462.4 660.00 375.6 660.12 451.2 660.25 439.6 660.37 405.8 660.50 464.1 660.62 441.8 660.75 419.6 660.87 472.5 661.00 430.5 661.12 423.3 661.25 485.3 661.37 478.5 661.50 462.6 661.62 441.0 661.75 476.0 661.87 435.8 662.00 480.8 662.12 464.7 662.25 462.5 662.37 462.6 662.50 440.6 662.62 453.8 662.75 466.0 662.87 401.2 663.00 348.5 663.12 428.3 663.25 475.8 663.37 418.2 663.50 480.9 663.62 428.7 663.75 472.3 663.87 379.0 664.00 467.4 664.12 465.6 664.25 433.5 664.37 472.5 664.50 434.0 664.62 481.7 664.75 406.4 664.87 486.0 665.00 432.5 665.12 472.2 665.25 453.6 665.37 469.3 665.50 483.9 665.62 440.2 665.75 446.6 665.87 411.8 666.00 455.6 666.12 443.1 666.25 472.9 666.37 443.2 666.50 473.1 666.62 479.6 666.75 465.0 666.87 476.8 667.00 433.6 667.12 463.0 667.25 474.6 667.37 408.8 667.50 386.5 667.62 435.6 667.75 428.1 667.87 349.7 668.00 352.2 668.12 394.4 668.25 397.8 668.37 477.7 668.50 462.8 668.62 441.4 668.75 413.0 668.87 489.0 669.00 480.8 669.12 427.4 669.25 437.8 669.37 479.2 669.50 351.6 669.62 455.9 669.75 395.0 669.87 486.5 670.00 446.4 670.12 417.1 670.25 481.5 670.37 462.3 670.50 427.7 670.62 485.9 670.75 439.8 670.87 464.5 671.00 395.2 671.12 393.4 671.25 441.6 671.37 489.2 671.50 391.8 671.62 488.6 671.75 446.8 671.87 459.5 672.00 467.1 672.12 481.0 672.25 434.4 672.37 479.3 672.50 289.5 672.62 411.7 672.75 429.0 672.87 487.3 673.00 479.1 673.12 466.7 673.25 453.6 673.37 450.1 673.50 489.1 673.62 437.8 673.75 465.7 673.87 456.0 674.00 469.4 674.12 458.1 674.25 466.7 674.37 412.5 674.50 485.2 674.62 487.4 674.75 453.9 674.87 457.7 675.00 458.6" stroke="#4a4a4a" stroke-width="0.6" fill="none" stroke-linejoin="bevel"/><path d="M252.90 489.5 253.02 483.1 253.15 488.8 253.27 475.2 253.40 470.2 253.52 483.4 253.65 477.0 253.77 472.2 253.90 477.3 254.02 489.0 254.15 473.5 254.27 488.5 254.40 477.0 254.52 487.4 254.65 484.4 254.77 486.4 254.90 488.9 255.02 477.4 255.15 476.1 255.27 479.9 255.40 484.9 255.52 483.6 255.65 465.8 255.77 487.5 255.90 475.5 256.02 487.1 256.15 487.8 256.27 481.9 256.40 482.6 256.52 484.9 256.65 478.8 256.77 487.2 256.90 484.4 257.02 488.5 257.15 473.5 257.27 486.6 257.40 470.8 257.52 480.6 257.65 486.7 257.77 485.2 257.90 486.0 258.02 486.4 258.15 479.2 258.28 486.8 258.40 482.8 258.53 484.6 258.65 485.7 258.78 485.7 258.90 489.6 259.03 487.9 259.15 488.0 259.28 483.6 259.40 465.8 259.53 474.6 259.65 481.7 259.78 486.6 259.90 478.8 260.03 486.5 260.15 472.0 260.28 487.2 260.40 473.6 260.53 488.8 260.65 489.3 260.78 485.1 260.90 486.1 261.03 483.4 261.15 485.6 261.28 465.8 261.40 485.2 261.53 484.5 261.65 483.3 261.78 467.3 261.90 477.4 262.03 482.2 262.15 476.2 262.28 485.8 262.40 477.8 262.53 477.6 262.65 482.8 262.78 481.1 262.90 465.8 263.03 482.2 263.15 481.7 263.28 481.3 263.40 469.1 263.53 487.9 263.65 486.3 263.78 480.6 263.90 485.9 264.03 478.4 264.15 487.1 264.28 483.5 264.40 478.0 264.53 487.8 264.65 483.0 264.78 480.4 264.90 480.5 265.03 483.2 265.15 486.4 265.28 486.9 265.40 478.7 265.53 473.2 265.65 482.1 265.78 467.0 265.90 478.5 266.03 487.5 266.15 473.2 266.28 483.7 266.40 488.4 266.53 486.6 266.65 488.4 266.78 488.4 266.90 465.8 267.03 481.4 267.15 480.0 267.28 485.8 267.40 466.3 267.53 482.4 267.65 480.1 267.78 476.4 267.90 478.1 268.03 487.0 268.15 487.8 268.28 486.3 268.40 489.1 268.53 487.8 268.65 480.0 268.78 487.2 268.90 488.2 269.03 482.7 269.15 487.6 269.28 477.4 269.40 485.0 269.53 485.0 269.65 467.6 269.78 473.4 269.90 484.4 270.03 483.4 270.15 476.0 270.28 478.6 270.40 485.1 270.53 481.6 270.65 482.8 270.78 480.7 270.90 483.0 271.03 482.0 271.15 479.4 271.28 488.2 271.40 488.9 271.53 487.9 271.65 474.9 271.78 487.5 271.90 488.9 272.03 479.2 272.15 467.2 272.28 483.0 272.40 486.4 272.53 474.9 272.65 477.0 272.78 476.8 272.90 478.7 273.03 479.3 273.15 485.9 273.28 488.4 273.40 487.7 273.53 487.2 273.65 478.9 273.78 468.3 273.90 486.6 274.03 484.5 274.15 482.8 274.28 483.2 274.40 476.8 274.53 486.8 274.65 472.8 274.78 486.3 274.90 486.8 275.03 477.8 275.15 477.3 275.28 489.3 275.40 479.4 275.53 479.6 275.65 486.6 275.78 477.2 275.90 486.5 276.03 486.0 276.15 480.4 276.28 483.3 276.40 473.1 276.53 483.0 276.65 487.9 276.78 484.5 276.90 486.9 277.03 473.7 277.15 481.9 277.28 488.2 277.40 474.3 277.53 489.0 277.65 489.4 277.78 487.0 277.90 481.8 278.03 488.3 278.15 478.6 278.28 481.9 278.40 485.1 278.53 475.2 278.65 488.2 278.78 482.7 278.90 472.0 279.03 486.0 279.16 485.2 279.28 486.9 279.41 470.0 279.53 478.6 279.66 485.5 279.78 484.1 279.91 479.2 280.03 488.1 280.16 482.0 280.28 474.7 280.41 486.0 280.53 487.8 280.66 484.1 280.78 474.1 280.91 481.7 281.03 484.6 281.16 465.8 281.28 469.8 281.41 485.2 281.53 487.9 281.66 483.1 281.78 485.3 281.91 486.3 282.03 475.1 282.16 488.8 282.28 482.1 282.41 489.2 282.53 484.1 282.66 487.1 282.78 480.1 282.91 481.8 283.03 480.4 283.16 488.6 283.28 485.7 283.41 473.5 283.53 486.4 283.66 487.5 283.78 486.5 283.91 468.0 284.03 488.8 284.16 475.6 284.28 482.3 284.41 477.7 284.53 486.0 284.66 477.1 284.78 479.6 284.91 485.1 285.03 475.9 285.16 488.6 285.28 486.8 285.41 480.6 285.53 487.5 285.66 474.7 285.78 484.7 285.91 483.0 286.03 473.9 286.16 485.7 286.28 488.7 286.41 480.7 286.53 481.0 286.66 484.8 286.78 477.4 286.91 465.8 287.03 487.1 287.16 473.2 287.28 483.6 287.41 483.2 287.53 482.7 287.66 484.4 287.78 475.0 287.91 488.8 288.03 483.1 288.16 480.8 288.28 485.3 288.41 488.3 288.53 487.0 288.66 483.5 288.78 465.8 288.91 465.8 289.03 470.1 289.16 488.5 289.28 475.1 289.41 488.9 289.53 470.9 289.66 470.1 289.78 472.1 289.91 485.6 290.03 487.9 290.16 471.3 290.28 483.0 290.41 474.4 290.53 479.8 290.66 485.2 290.78 474.9 290.91 475.4 291.03 487.7 291.16 476.4 291.28 471.9 291.41 486.0 291.53 482.7 291.66 486.8 291.78 477.3 291.91 486.6 292.03 470.9 292.16 479.0 292.28 485.7 292.41 483.8 292.53 484.7 292.66 478.0 292.78 477.4 292.91 481.5 293.03 485.6 293.16 483.8 293.28 487.5 293.41 485.4 293.53 488.5 293.66 465.8 293.78 474.4 293.91 481.8 294.03 481.7 294.16 485.0 294.28 486.2 294.41 484.8 294.53 489.3 294.66 488.4 294.78 470.4 294.91 482.5 295.03 485.6 295.16 485.1 295.28 481.5 295.41 483.7 295.53 485.1 295.66 473.5 295.78 480.8 295.91 489.6 296.03 488.3 296.16 482.5 296.28 485.3 296.41 482.3 296.53 481.0 296.66 480.1 296.78 487.5 296.91 482.3 297.03 480.4 297.16 487.1 297.28 483.7 297.41 478.3 297.53 475.6 297.66 478.0 297.78 486.7 297.91 485.1 298.03 489.3 298.16 489.0 298.28 489.0 298.41 478.7 298.53 483.5 298.66 489.3 298.78 483.5 298.91 488.8 299.03 488.2 299.16 486.5 299.28 477.9 299.41 489.6 299.53 488.2 299.66 484.6 299.79 485.5 299.91 487.7 300.04 488.9 300.16 473.8 300.29 479.7 300.41 475.2 300.54 482.1 300.66 487.7 300.79 484.4 300.91 486.8 301.04 483.2 301.16 480.5 301.29 486.1 301.41 487.9 301.54 481.9 301.66 471.4 301.79 479.6 301.91 483.1 302.04 486.5 302.16 485.1 302.29 486.0 302.41 489.4 302.54 478.9 302.66 467.1 302.79 486.3 302.91 477.8 303.04 484.7 303.16 482.0 303.29 485.0 303.41 488.1 303.54 486.9 303.66 479.5 303.79 488.6 303.91 488.5 304.04 483.2 304.16 485.3 304.29 478.7 304.41 480.7 304.54 488.5 304.66 472.6 304.79 476.4 304.91 489.0 305.04 483.6 305.16 489.1 305.29 480.6 305.41 480.3 305.54 467.6 305.66 484.0 305.79 488.1 305.91 488.4 306.04 483.1 306.16 482.8 306.29 486.7 306.41 489.3 306.54 478.6 306.66 489.2 306.79 485.9 306.91 486.3 307.04 485.9 307.16 486.1 307.29 489.0 307.41 487.0 307.54 473.5 307.66 484.8 307.79 472.2 307.91 476.1 308.04 474.3 308.16 483.9 308.29 475.0 308.41 466.1 308.54 485.7 308.66 478.4 308.79 476.8 308.91 482.5 309.04 481.3 309.16 480.3 309.29 482.4 309.41 488.7 309.54 476.4 309.66 481.9 309.79 483.5 309.91 488.9 310.04 482.0 310.16 483.9 310.29 479.6 310.41 480.1 310.54 489.2 310.66 481.3 310.79 481.5 310.91 483.6 311.04 465.8 311.16 489.5 311.29 474.5 311.41 489.1 311.54 481.1 311.66 472.0 311.79 484.2 311.91 480.7 312.04 486.5 312.16 475.4 312.29 484.5 312.41 483.2 312.54 472.2 312.66 483.2 312.79 465.8 312.91 481.6 313.04 481.7 313.16 465.8 313.29 482.1 313.41 480.2 313.54 465.8 313.66 478.8 313.79 477.8 313.91 472.6 314.04 485.7 314.16 472.7 314.29 465.8 314.41 486.6 314.54 478.5 314.66 482.2 314.79 484.8 314.91 473.5 315.04 484.2 315.16 489.1 315.29 480.0 315.41 480.1 315.54 480.7 315.66 486.9 315.79 484.1 315.91 483.4 316.04 477.1 316.16 479.8 316.29 483.3 316.41 473.4 316.54 482.0 316.66 488.4 316.79 476.8 316.91 487.2 317.04 482.1 317.16 476.3 317.29 487.2 317.41 480.6 317.54 489.4 317.66 476.0 317.79 486.9 317.91 482.6 318.04 475.9 318.16 488.6 318.29 481.3 318.41 485.2 318.54 481.5 318.66 472.9 318.79 485.6 318.91 488.6 319.04 473.2 319.16 484.8 319.29 487.1 319.41 489.3 319.54 488.9 319.66 483.1 319.79 487.4 319.91 486.7 320.04 484.0 320.16 484.5 320.29 489.6 320.41 466.5 320.54 481.8 320.67 489.4 320.79 480.8 320.92 486.6 321.04 486.1 321.17 485.2 321.29 477.4 321.42 481.5 321.54 477.1 321.67 480.3 321.79 480.6 321.92 489.2 322.04 486.9 322.17 483.6 322.29 489.6 322.42 484.3 322.54 481.2 322.67 482.5 322.79 480.7 322.92 486.9 323.04 479.0 323.17 486.6 323.29 486.4 323.42 482.1 323.54 480.2 323.67 487.9 323.79 483.3 323.92 482.7 324.04 486.9 324.17 489.5 324.29 484.5 324.42 485.9 324.54 474.3 324.67 479.5 324.79 469.3 324.92 474.9 325.04 484.9 325.17 476.0 325.29 485.4 325.42 482.4 325.54 488.9 325.67 486.6 325.79 471.9 325.92 488.7 326.04 480.8 326.17 479.7 326.29 488.0 326.42 473.6 326.54 475.4 326.67 477.2 326.79 479.5 326.92 486.9 327.04 489.0 327.17 483.1 327.29 481.3 327.42 489.6 327.54 480.3 327.67 466.8 327.79 467.7 327.92 489.2 328.04 483.5 328.17 478.9 328.29 482.2 328.42 486.1 328.54 469.5 328.67 465.8 328.79 476.9 328.92 478.9 329.04 488.5 329.17 486.8 329.29 479.6 329.42 488.3 329.54 488.9 329.67 488.2 329.79 482.7 329.92 486.9 330.04 480.8 330.17 484.8 330.29 470.3 330.42 478.0 330.54 483.0 330.67 480.1 330.79 488.4 330.92 482.0 331.04 484.4 331.17 485.3 331.29 488.9 331.42 485.9 331.54 486.1 331.67 473.2 331.79 466.2 331.92 475.4 332.04 470.0 332.17 475.4 332.29 477.7 332.42 487.3 332.54 482.2 332.67 488.5 332.79 489.1 332.92 480.2 333.04 480.3 333.17 483.8 333.29 477.1 333.42 476.5 333.54 484.5 333.67 484.8 333.79 488.5 333.92 476.2 334.04 471.9 334.17 489.4 334.29 486.0 334.42 487.6 334.54 489.3 334.67 473.3 334.79 485.0 334.92 479.4 335.04 481.4 335.17 481.1 335.29 479.2 335.42 481.8 335.54 484.0 335.67 480.2 335.79 485.7 335.92 479.5 336.04 469.5 336.17 480.8 336.29 486.1 336.42 488.7 336.54 485.1 336.67 482.8 336.79 465.8 336.92 487.1 337.04 476.8 337.17 479.0 337.29 483.4 337.42 477.6 337.54 489.3 337.67 481.7 337.79 488.4 337.92 468.8 338.04 477.3 338.17 480.2 338.29 473.8 338.42 482.6 338.54 483.2 338.67 489.0 338.79 474.4 338.92 471.6 339.04 476.0 339.17 480.8 339.29 475.7 339.42 485.8 339.54 475.5 339.67 479.1 339.79 486.5 339.92 480.9 340.04 478.9 340.17 485.2 340.29 485.1 340.42 475.1 340.54 481.1 340.67 477.9 340.79 489.2 340.92 489.2 341.04 476.0 341.17 482.5 341.29 481.1 341.42 480.1 341.55 483.3 341.67 480.0 341.80 474.1 341.92 484.3 342.05 485.8 342.17 486.4 342.30 480.6 342.42 488.5 342.55 476.7 342.67 473.7 342.80 472.2 342.92 488.2 343.05 489.4 343.17 472.1 343.30 480.9 343.42 481.9 343.55 487.9 343.67 475.8 343.80 473.4 343.92 477.4 344.05 483.5 344.17 489.5 344.30 481.1 344.42 474.2 344.55 484.7 344.67 474.3 344.80 480.7 344.92 488.5 345.05 478.6 345.17 487.7 345.30 487.6 345.42 477.7 345.55 482.9 345.67 476.3 345.80 477.4 345.92 488.3 346.05 483.5 346.17 476.0 346.30 478.2 346.42 487.6 346.55 485.3 346.67 482.0 346.80 484.6 346.92 478.4 347.05 478.3 347.17 483.1 347.30 479.0 347.42 484.0 347.55 487.8 347.67 484.3 347.80 479.2 347.92 485.7 348.05 471.8 348.17 471.5 348.30 471.0 348.42 475.6 348.55 474.5 348.67 473.0 348.80 465.8 348.92 482.2 349.05 489.1 349.17 477.6 349.30 482.4 349.42 475.7 349.55 476.2 349.67 478.0 349.80 472.2 349.92 489.1 350.05 469.4 350.17 485.9 350.30 486.0 350.42 487.9 350.55 481.1 350.67 479.2 350.80 486.3 350.92 487.3 351.05 482.1 351.17 476.9 351.30 489.1 351.42 473.3 351.55 470.7 351.67 481.9 351.80 486.4 351.92 476.4 352.05 481.1 352.17 469.1 352.30 479.8 352.42 485.0 352.55 489.3 352.67 488.4 352.80 485.8 352.92 475.6 353.05 480.4 353.17 482.9 353.30 483.4 353.42 487.5 353.55 487.4 353.67 484.6 353.80 482.3 353.92 488.7 354.05 471.8 354.17 485.1 354.30 487.4 354.42 481.3 354.55 483.7 354.67 487.2 354.80 484.3 354.92 483.6 355.05 469.8 355.17 483.4 355.30 482.7 355.42 485.8 355.55 485.2 355.67 481.8 355.80 474.3 355.92 479.3 356.05 484.1 356.17 479.7 356.30 486.3 356.42 486.2 356.55 477.8 356.67 482.9 356.80 489.1 356.92 484.7 357.05 483.7 357.17 482.6 357.30 475.7 357.42 485.0 357.55 476.0 357.67 480.4 357.80 466.5 357.92 475.6 358.05 480.8 358.17 486.2 358.30 483.1 358.42 483.7 358.55 478.3 358.67 486.0 358.80 478.6 358.92 484.4 359.05 478.7 359.17 478.1 359.30 482.0 359.42 486.5 359.55 486.7 359.67 489.3 359.80 483.9 359.92 486.0 360.05 484.0 360.17 475.8 360.30 477.4 360.42 471.9 360.55 478.0 360.67 489.5 360.80 476.0 360.92 467.5 361.05 477.4 361.17 489.0 361.30 476.0 361.42 488.2 361.55 478.0 361.67 485.7 361.80 484.8 361.92 486.6 362.05 488.5 362.17 469.5 362.30 477.7 362.43 481.9 362.55 484.7 362.68 486.4 362.80 485.0 362.93 488.5 363.05 486.8 363.18 482.8 363.30 484.3 363.43 485.1 363.55 479.3 363.68 489.3 363.80 480.5 363.93 480.8 364.05 478.1 364.18 478.8 364.30 485.7 364.43 470.2 364.55 477.9 364.68 487.1 364.80 482.7 364.93 482.5 365.05 478.6 365.18 481.5 365.30 480.6 365.43 477.8 365.55 485.4 365.68 478.4 365.80 485.0 365.93 486.0 366.05 477.3 366.18 487.9 366.30 487.3 366.43 467.8 366.55 479.1 366.68 487.6 366.80 465.8 366.93 465.8 367.05 488.1 367.18 482.7 367.30 473.4 367.43 489.4 367.55 484.1 367.68 487.8 367.80 482.6 367.93 480.2 368.05 480.0 368.18 485.7 368.30 488.3 368.43 488.5 368.55 484.9 368.68 482.4 368.80 481.8 368.93 485.0 369.05 485.5 369.18 475.7 369.30 485.9 369.43 473.1 369.55 484.0 369.68 476.6 369.80 484.9 369.93 482.3 370.05 484.9 370.18 478.7 370.30 481.6 370.43 478.5 370.55 469.2 370.68 474.0 370.80 472.3 370.93 472.5 371.05 481.1 371.18 482.5 371.30 481.8 371.43 489.3 371.55 488.9 371.68 471.9 371.80 475.9 371.93 475.9 372.05 482.3 372.18 478.8 372.30 488.0 372.43 483.3 372.55 482.9 372.68 488.1 372.80 465.8 372.93 488.1 373.05 480.2 373.18 479.9 373.30 485.2 373.43 480.3 373.55 478.9 373.68 482.2 373.80 484.6 373.93 486.8 374.05 482.1 374.18 474.1 374.30 477.0 374.43 479.8 374.55 483.2 374.68 489.0 374.80 480.6 374.93 486.9 375.05 486.6 375.18 479.0 375.30 487.2 375.43 487.0 375.55 484.2 375.68 489.5 375.80 477.9 375.93 485.5 376.05 467.7 376.18 474.9 376.30 484.8 376.43 486.0 376.55 488.2 376.68 480.8 376.80 487.8 376.93 484.6 377.05 477.4 377.18 486.3 377.30 472.8 377.43 482.8 377.55 483.2 377.68 473.8 377.80 483.5 377.93 484.8 378.05 487.0 378.18 482.0 378.30 480.0 378.43 489.2 378.55 482.7 378.68 479.8 378.80 468.8 378.93 483.2 379.05 485.3 379.18 482.6 379.30 481.9 379.43 486.7 379.55 477.8 379.68 485.3 379.80 487.8 379.93 474.6 380.05 485.3 380.18 489.5 380.30 488.1 380.43 489.2 380.55 485.7 380.68 487.1 380.80 486.8 380.93 482.9 381.05 487.5 381.18 484.3 381.30 477.0 381.43 478.9 381.55 489.2 381.68 480.8 381.80 482.1 381.93 481.6 382.05 465.8 382.18 487.8 382.30 470.4 382.43 482.6 382.55 474.2 382.68 469.5 382.80 483.5 382.93 469.9 383.05 482.7 383.18 480.8 383.31 488.9 383.43 486.1 383.56 480.9 383.68 483.8 383.81 479.1 383.93 476.6 384.06 487.1 384.18 475.2 384.31 489.4 384.43 470.5 384.56 475.5 384.68 479.7 384.81 487.2 384.93 487.9 385.06 486.3 385.18 488.3 385.31 480.1 385.43 475.6 385.56 482.7 385.68 482.4 385.81 475.6 385.93 488.8 386.06 489.0 386.18 488.2 386.31 473.6 386.43 472.8 386.56 486.9 386.68 479.8 386.81 488.5 386.93 483.3 387.06 477.3 387.18 478.2 387.31 483.9 387.43 485.6 387.56 485.9 387.68 488.2 387.81 487.8 387.93 487.8 388.06 484.7 388.18 479.6 388.31 481.6 388.43 488.9 388.56 489.0 388.68 487.5 388.81 475.5 388.93 477.3 389.06 489.3 389.18 479.5 389.31 487.5 389.43 480.3 389.56 465.8 389.68 474.4 389.81 472.6 389.93 474.1 390.06 478.2 390.18 473.4 390.31 481.0 390.43 479.1 390.56 465.8 390.68 483.9 390.81 474.5 390.93 473.6 391.06 480.8 391.18 484.2 391.31 474.3 391.43 468.6 391.56 484.9 391.68 482.0 391.81 484.3 391.93 487.6 392.06 487.6 392.18 489.2 392.31 481.8 392.43 483.4 392.56 477.4 392.68 475.3 392.81 478.5 392.93 465.8 393.06 481.3 393.18 486.8 393.31 485.9 393.43 486.4 393.56 481.2 393.68 482.3 393.81 467.8 393.93 489.5 394.06 476.4 394.18 487.1 394.31 482.2 394.43 472.9 394.56 489.0 394.68 476.3 394.81 482.7 394.93 480.4 395.06 468.2 395.18 487.9 395.31 482.5 395.43 485.8 395.56 483.3 395.68 474.9 395.81 466.9 395.93 472.0 396.06 486.5 396.18 478.3 396.31 484.9 396.43 487.0 396.56 479.2 396.68 487.3 396.81 472.9 396.93 480.5 397.06 483.9 397.18 476.1 397.31 474.3 397.43 485.9 397.56 482.5 397.68 478.5 397.81 480.1 397.93 473.2 398.06 487.1 398.18 487.2 398.31 469.6 398.43 488.2 398.56 478.6 398.68 487.5 398.81 465.8 398.93 487.4 399.06 473.2 399.18 469.8 399.31 484.9 399.43 468.9 399.56 465.8 399.68 479.9 399.81 477.3 399.93 487.5 400.06 483.2 400.18 475.6 400.31 485.9 400.43 485.9 400.56 484.6 400.68 483.1 400.81 480.8 400.93 489.5 401.06 483.0 401.18 482.1 401.31 476.0 401.43 487.9 401.56 478.2 401.68 488.0 401.81 487.5 401.93 478.6 402.06 474.8 402.18 487.6 402.31 486.4 402.43 476.3 402.56 487.5 402.68 482.8 402.81 485.2 402.93 488.3 403.06 477.5 403.18 485.4 403.31 488.9 403.43 482.4 403.56 472.1 403.68 484.7 403.81 488.3 403.93 479.3 404.06 483.2 404.19 487.6 404.31 472.7 404.44 479.9 404.56 477.8 404.69 484.5 404.81 481.0 404.94 481.3 405.06 477.4 405.19 478.1 405.31 468.6 405.44 489.3 405.56 487.7 405.69 484.6 405.81 488.1 405.94 486.2 406.06 479.8 406.19 489.4 406.31 487.9 406.44 486.3 406.56 489.0 406.69 484.9 406.81 484.3 406.94 487.3 407.06 479.1 407.19 475.4 407.31 485.2 407.44 482.1 407.56 470.7 407.69 489.5 407.81 481.8 407.94 488.7 408.06 489.5 408.19 488.7 408.31 482.6 408.44 480.1 408.56 481.0 408.69 479.7 408.81 488.8 408.94 486.1 409.06 486.6 409.19 476.2 409.31 488.3 409.44 483.9 409.56 471.8 409.69 485.0 409.81 476.3 409.94 474.5 410.06 489.4 410.19 483.9 410.31 474.1 410.44 487.6 410.56 487.2 410.69 480.0 410.81 480.4 410.94 476.9 411.06 484.4 411.19 487.5 411.31 488.2 411.44 472.5 411.56 480.0 411.69 475.1 411.81 465.8 411.94 487.1 412.06 488.7 412.19 479.7 412.31 483.1 412.44 485.3 412.56 474.9 412.69 471.5 412.81 481.5 412.94 485.6 413.06 483.7 413.19 484.3 413.31 473.4 413.44 486.4 413.56 474.6 413.69 477.8 413.81 481.7 413.94 474.0 414.06 482.5 414.19 476.8 414.31 473.5 414.44 482.4 414.56 489.5 414.69 479.2 414.81 487.5 414.94 488.4 415.06 481.2 415.19 484.6 415.31 465.8 415.44 466.6 415.56 478.1 415.69 478.9 415.81 488.4 415.94 472.8 416.06 480.7 416.19 488.7 416.31 472.5 416.44 488.9 416.56 481.0 416.69 475.5 416.81 481.4 416.94 488.6 417.06 487.4 417.19 480.7 417.31 488.5 417.44 487.1 417.56 469.9 417.69 475.0 417.81 480.3 417.94 482.3 418.06 475.7 418.19 472.5 418.31 489.2 418.44 485.0 418.56 477.4 418.69 483.7 418.81 479.3 418.94 483.8 419.06 479.2 419.19 477.5 419.31 475.6 419.44 484.7 419.56 478.3 419.69 485.4 419.81 488.8 419.94 479.6 420.06 486.5 420.19 468.3 420.31 480.1 420.44 488.6 420.56 486.4 420.69 471.4 420.81 481.8 420.94 489.1 421.06 486.1 421.19 486.1 421.31 479.9 421.44 477.1 421.56 474.3 421.69 475.2 421.81 484.6 421.94 481.9 422.06 481.3 422.19 488.3 422.31 476.7 422.44 476.9 422.56 487.1 422.69 482.2 422.81 489.1 422.94 465.8 423.06 477.9 423.19 485.3 423.31 482.5 423.44 487.1 423.56 475.9 423.69 477.1 423.81 478.0 423.94 477.1 424.06 483.8 424.19 476.0 424.31 487.8 424.44 487.4 424.56 473.7 424.69 484.7 424.81 487.8 424.94 479.8 425.07 481.7 425.19 472.8 425.32 477.2 425.44 489.4 425.57 474.9 425.69 484.0 425.82 486.8 425.94 476.6 426.07 471.4 426.19 482.9 426.32 476.5 426.44 488.5 426.57 489.6 426.69 479.7 426.82 481.2 426.94 486.4 427.07 486.7 427.19 488.2 427.32 471.0 427.44 480.7 427.57 477.8 427.69 480.5 427.82 487.2 427.94 480.9 428.07 469.7 428.19 478.1 428.32 488.1 428.44 486.8 428.57 485.4 428.69 488.0 428.82 488.3 428.94 487.8 429.07 473.9 429.19 485.0 429.32 479.4 429.44 469.2 429.57 485.0 429.69 473.6 429.82 485.7 429.94 481.9 430.07 472.1 430.19 472.9 430.32 476.8 430.44 478.8 430.57 488.0 430.69 471.8 430.82 477.3 430.94 479.5 431.07 486.4 431.19 470.8 431.32 483.4 431.44 480.5 431.57 488.3 431.69 473.3 431.82 488.2 431.94 489.0 432.07 475.7 432.19 485.8 432.32 478.6 432.44 479.2 432.57 478.0 432.69 480.4 432.82 477.4 432.94 487.4 433.07 473.0 433.19 472.3 433.32 473.4 433.44 475.4 433.57 486.5 433.69 487.6 433.82 483.8 433.94 485.5 434.07 469.8 434.19 486.0 434.32 489.3 434.44 483.1 434.57 487.6 434.69 475.2 434.82 478.1 434.94 478.7 435.07 488.3 435.19 475.9 435.32 488.8 435.44 481.2 435.57 484.0 435.69 487.9 435.82 480.2 435.94 482.0 436.07 480.9 436.19 482.0 436.32 486.2 436.44 485.5 436.57 485.4 436.69 485.7 436.82 474.4 436.94 487.1 437.07 489.0 437.19 471.9 437.32 477.0 437.44 480.2 437.57 488.9 437.69 481.5 437.82 473.6 437.94 484.4 438.07 487.9 438.19 477.2 438.32 484.0 438.44 484.2 438.57 479.9 438.69 480.3 438.82 479.8 438.94 487.4 439.07 487.5 439.19 480.5 439.32 469.9 439.44 472.3 439.57 485.4 439.69 479.6 439.82 473.3 439.94 481.5 440.07 484.7 440.19 484.7 440.32 484.4 440.44 477.9 440.57 488.1 440.69 480.6 440.82 483.2 440.94 485.3 441.07 482.1 441.19 482.5 441.32 484.2 441.44 480.5 441.57 488.2 441.69 483.9 441.82 481.8 441.94 485.4 442.07 477.0 442.19 487.2 442.32 482.1 442.44 484.6" stroke="#666666" stroke-width="0.6" fill="none" stroke-linejoin="bevel"/><path d="M49.60 456.0 49.73 473.8 49.85 467.8 49.98 488.3 50.10 485.8 50.23 488.6 50.35 471.0 50.48 482.7 50.60 462.6 50.73 451.8 50.85 485.1 50.98 463.0 51.10 488.3 51.23 487.1 51.35 480.8 51.48 489.3 51.60 462.9 51.73 468.9 51.85 482.6 51.98 472.6 52.10 469.0 52.23 482.2 52.35 486.6 52.48 466.7 52.60 481.4 52.73 469.7 52.85 470.1 52.98 464.4 53.10 486.5 53.23 479.9 53.35 468.1 53.48 480.5 53.60 480.2 53.73 483.4 53.85 481.1 53.98 488.0 54.10 488.2 54.23 487.1 54.35 487.8 54.48 476.0 54.60 457.8 54.73 485.4 54.85 487.5 54.98 466.8 55.10 462.9 55.23 474.0 55.35 488.9 55.48 472.1 55.60 480.7 55.73 474.9 55.85 484.2 55.98 488.4 56.10 487.0 56.23 481.3 56.35 486.9 56.48 479.5 56.60 467.7 56.73 474.0 56.85 486.1 56.98 479.5 57.10 468.0 57.23 465.4 57.35 479.2 57.48 458.7 57.60 471.8 57.73 467.8 57.85 480.2 57.98 461.1 58.10 487.2 58.23 467.6 58.35 457.8 58.48 468.9 58.60 477.0 58.73 465.5 58.85 473.2 58.98 480.0 59.10 487.7 59.23 467.0 59.35 476.5 59.48 487.7 59.60 465.9 59.73 475.0 59.85 483.3 59.98 482.1 60.10 457.6 60.23 484.3 60.35 483.8 60.48 469.8 60.60 474.3 60.73 481.6 60.85 462.1 60.98 459.9 61.10 472.9 61.23 434.1 61.35 485.4 61.48 489.4 61.60 466.8 61.73 454.9 61.85 469.1 61.98 460.5 62.10 484.7 62.23 434.1 62.35 434.1 62.48 480.6 62.60 445.5 62.73 484.8 62.85 446.0 62.98 484.3 63.10 481.6 63.23 485.9 63.35 482.1 63.48 467.7 63.60 477.5 63.73 473.6 63.85 441.2 63.98 463.1 64.10 486.7 64.23 485.6 64.35 480.6 64.48 486.0 64.60 469.6 64.73 436.2 64.85 487.1 64.98 482.0 65.10 483.0 65.23 475.1 65.35 435.4 65.48 439.4 65.60 468.3 65.73 476.1 65.85 469.8 65.98 477.5 66.10 484.4 66.23 457.7 66.35 484.7 66.48 454.1 66.60 476.7 66.73 485.2 66.85 472.3 66.98 488.6 67.10 483.2 67.23 486.7 67.35 482.0 67.48 485.9 67.60 480.3 67.73 487.9 67.85 461.1 67.98 466.3 68.10 483.5 68.23 468.2 68.35 464.7 68.48 475.1 68.60 484.3 68.73 480.3 68.85 472.2 68.98 483.3 69.10 456.5 69.23 460.1 69.35 464.3 69.48 469.5 69.60 486.8 69.73 454.4 69.85 478.0 69.98 458.1 70.10 470.8 70.23 474.1 70.35 478.4 70.48 478.4 70.61 477.8 70.73 475.6 70.86 482.4 70.98 487.6 71.11 486.2 71.23 469.9 71.36 480.0 71.48 483.3 71.61 466.5 71.73 476.4 71.86 461.8 71.98 448.7 72.11 479.6 72.23 483.3 72.36 450.6 72.48 460.1 72.61 476.7 72.73 473.2 72.86 478.8 72.98 488.3 73.11 483.6 73.23 465.8 73.36 474.8 73.48 477.6 73.61 457.4 73.73 476.2 73.86 452.1 73.98 477.3 74.11 470.1 74.23 486.3 74.36 471.4 74.48 471.9 74.61 443.2 74.73 472.8 74.86 483.7 74.98 488.8 75.11 474.3 75.23 485.6 75.36 482.5 75.48 488.7 75.61 456.2 75.73 447.8 75.86 478.1 75.98 488.7 76.11 486.9 76.23 482.9 76.36 477.2 76.48 485.3 76.61 443.9 76.73 472.4 76.86 454.9 76.98 487.6 77.11 486.0 77.23 481.5 77.36 477.1 77.48 465.4 77.61 465.4 77.73 444.5 77.86 471.0 77.98 472.7 78.11 482.3 78.23 444.2 78.36 488.1 78.48 434.2 78.61 458.1 78.73 477.8 78.86 442.9 78.98 480.1 79.11 445.1 79.23 454.4 79.36 436.7 79.48 428.3 79.61 474.2 79.73 460.4 79.86 474.0 79.98 432.5 80.11 455.8 80.23 470.8 80.36 463.1 80.48 474.0 80.61 479.7 80.73 454.3 80.86 456.6 80.98 454.3 81.11 478.0 81.23 461.5 81.36 470.9 81.48 481.6 81.61 474.7 81.73 438.6 81.86 458.2 81.98 457.6 82.11 487.1 82.23 470.4 82.36 459.3 82.48 473.4 82.61 462.5 82.73 427.1 82.86 474.5 82.98 485.6 83.11 449.8 83.23 475.6 83.36 467.3 83.48 427.9 83.61 488.6 83.73 489.3 83.86 489.2 83.98 480.0 84.11 443.9 84.23 484.0 84.36 482.1 84.48 486.0 84.61 461.5 84.73 477.9 84.86 438.7 84.98 477.0 85.11 469.1 85.23 480.8 85.36 486.6 85.48 465.5 85.61 487.0 85.73 457.4 85.86 487.0 85.98 473.8 86.11 447.2 86.23 451.5 86.36 477.8 86.48 481.0 86.61 481.6 86.73 477.1 86.86 469.2 86.98 476.0 87.11 469.0 87.23 471.7 87.36 486.8 87.48 477.1 87.61 476.4 87.73 464.5 87.86 481.6 87.98 456.1 88.11 464.4 88.23 462.9 88.36 487.3 88.48 464.9 88.61 463.1 88.73 470.6 88.86 470.7 88.98 473.4 89.11 481.7 89.23 485.9 89.36 473.4 89.48 478.5 89.61 460.0 89.73 482.4 89.86 488.1 89.98 480.3 90.11 442.9 90.23 461.8 90.36 474.3 90.48 489.2 90.61 471.6 90.73 482.5 90.86 482.6 90.98 481.2 91.11 475.4 91.23 486.8 91.36 467.3 91.49 471.0 91.61 482.6 91.74 482.0 91.86 468.8 91.99 483.6 92.11 477.0 92.24 488.2 92.36 480.9 92.49 482.5 92.61 466.7 92.74 487.6 92.86 471.2 92.99 479.4 93.11 466.1 93.24 489.3 93.36 483.4 93.49 476.7 93.61 476.9 93.74 455.7 93.86 456.1 93.99 483.5 94.11 476.5 94.24 480.7 94.36 469.9 94.49 480.7 94.61 434.6 94.74 459.3 94.86 484.3 94.99 443.8 95.11 452.8 95.24 486.9 95.36 440.6 95.49 468.9 95.61 483.9 95.74 482.0 95.86 456.2 95.99 431.1 96.11 471.1 96.24 485.0 96.36 481.0 96.49 480.9 96.61 449.0 96.74 450.8 96.86 469.3 96.99 439.8 97.11 437.2 97.24 489.1 97.36 478.3 97.49 475.9 97.61 484.3 97.74 470.1 97.86 477.6 97.99 481.5 98.11 446.2 98.24 470.6 98.36 465.9 98.49 461.5 98.61 465.0 98.74 484.9 98.86 486.1 98.99 469.2 99.11 465.7 99.24 482.7 99.36 450.4 99.49 469.1 99.61 460.5 99.74 456.8 99.86 475.9 99.99 426.3 100.11 479.9 100.24 484.3 100.36 473.8 100.49 472.6 100.61 425.4 100.74 471.6 100.86 467.9 100.99 485.0 101.11 456.7 101.24 484.9 101.36 487.3 101.49 456.8 101.61 471.9 101.74 481.1 101.86 489.5 101.99 471.9 102.11 477.0 102.24 482.9 102.36 481.8 102.49 464.6 102.61 461.3 102.74 484.2 102.86 483.2 102.99 479.2 103.11 480.8 103.24 480.4 103.36 445.0 103.49 484.3 103.61 450.5 103.74 471.9 103.86 464.3 103.99 478.7 104.11 478.7 104.24 448.7 104.36 484.3 104.49 465.8 104.61 462.5 104.74 470.6 104.86 460.3 104.99 465.8 105.11 488.5 105.24 483.6 105.36 481.3 105.49 481.9 105.61 486.6 105.74 445.6 105.86 481.4 105.99 486.8 106.11 477.1 106.24 469.0 106.36 452.0 106.49 477.7 106.61 472.9 106.74 465.6 106.86 477.2 106.99 467.4 107.11 478.6 107.24 485.6 107.36 456.9 107.49 477.4 107.61 479.3 107.74 479.9 107.86 487.4 107.99 459.8 108.11 478.6 108.24 460.4 108.36 483.3 108.49 489.5 108.61 489.5 108.74 468.4 108.86 484.7 108.99 483.0 109.11 477.7 109.24 488.9 109.36 455.3 109.49 479.7 109.61 473.8 109.74 458.0 109.86 484.1 109.99 469.8 110.11 467.9 110.24 477.5 110.36 488.5 110.49 486.3 110.61 465.2 110.74 483.0 110.86 468.7 110.99 454.4 111.11 456.0 111.24 470.1 111.36 421.7 111.49 478.7 111.61 463.0 111.74 480.7 111.86 438.4 111.99 473.6 112.11 461.1 112.24 461.6 112.37 423.2 112.49 485.2 112.62 456.6 112.74 468.7 112.87 446.2 112.99 431.6 113.12 444.1 113.24 443.1 113.37 485.8 113.49 451.6 113.62 475.5 113.74 469.7 113.87 466.2 113.99 434.8 114.12 479.1 114.24 469.6 114.37 472.2 114.49 461.8 114.62 476.9 114.74 486.9 114.87 480.7 114.99 456.9 115.12 479.5 115.24 485.8 115.37 467.6 115.49 458.5 115.62 483.7 115.74 476.3 115.87 438.6 115.99 469.9 116.12 473.1 116.24 466.2 116.37 486.7 116.49 464.6 116.62 484.9 116.74 480.7 116.87 481.1 116.99 486.0 117.12 481.4 117.24 470.4 117.37 475.1 117.49 466.2 117.62 475.9 117.74 475.2 117.87 453.8 117.99 474.1 118.12 482.6 118.24 454.9 118.37 488.5 118.49 485.7 118.62 475.2 118.74 483.4 118.87 435.4 118.99 468.0 119.12 477.6 119.24 462.6 119.37 488.2 119.49 470.9 119.62 446.6 119.74 470.8 119.87 482.3 119.99 477.2 120.12 476.7 120.24 489.4 120.37 470.5 120.49 460.7 120.62 467.6 120.74 468.8 120.87 476.3 120.99 481.5 121.12 469.6 121.24 462.7 121.37 455.3 121.49 487.0 121.62 476.1 121.74 486.8 121.87 486.9 121.99 442.6 122.12 479.5 122.24 452.2 122.37 457.3 122.49 458.2 122.62 464.6 122.74 471.1 122.87 488.2 122.99 485.0 123.12 476.3 123.24 476.7 123.37 476.0 123.49 462.3 123.62 479.0 123.74 462.2 123.87 485.9 123.99 457.2 124.12 478.5 124.24 471.1 124.37 469.5 124.49 475.4 124.62 478.1 124.74 488.1 124.87 481.5 124.99 481.6 125.12 485.2 125.24 488.9 125.37 482.3 125.49 480.7 125.62 463.0 125.74 486.7 125.87 456.1 125.99 447.4 126.12 477.8 126.24 467.4 126.37 480.9 126.49 439.5 126.62 485.8 126.74 469.4 126.87 468.9 126.99 447.9 127.12 457.9 127.24 449.8 127.37 477.3 127.49 470.7 127.62 462.9 127.74 422.1 127.87 480.5 127.99 488.6 128.12 441.9 128.24 459.4 128.37 483.7 128.49 474.3 128.62 479.4 128.74 474.8 128.87 486.9 128.99 469.6 129.12 475.0 129.24 487.9 129.37 457.4 129.49 443.9 129.62 460.9 129.74 456.9 129.87 473.9 129.99 461.5 130.12 464.9 130.24 452.0 130.37 409.9 130.49 453.5 130.62 457.8 130.74 488.6 130.87 482.3 130.99 488.7 131.12 479.8 131.24 482.8 131.37 474.9 131.49 453.6 131.62 459.4 131.74 481.0 131.87 461.4 131.99 476.0 132.12 484.8 132.24 478.9 132.37 483.0 132.49 482.9 132.62 464.6 132.74 469.2 132.87 481.5 133.00 489.3 133.12 472.3 133.25 468.0 133.37 482.1 133.50 477.5 133.62 488.6 133.75 485.9 133.87 476.2 134.00 465.7 134.12 439.0 134.25 468.0 134.37 478.5 134.50 481.5 134.62 455.8 134.75 444.4 134.87 474.6 135.00 437.1 135.12 465.1 135.25 456.6 135.37 400.5 135.50 472.3 135.62 453.5 135.75 484.9 135.87 484.1 136.00 444.6 136.12 476.1 136.25 446.4 136.37 473.1 136.50 463.6 136.62 450.0 136.75 449.6 136.87 484.6 137.00 465.0 137.12 473.8 137.25 474.6 137.37 471.5 137.50 453.5 137.62 439.0 137.75 467.3 137.87 419.4 138.00 475.7 138.12 463.8 138.25 488.4 138.37 406.3 138.50 453.2 138.62 481.1 138.75 467.4 138.87 396.9 139.00 484.8 139.12 474.7 139.25 475.8 139.37 476.6 139.50 463.2 139.62 476.6 139.75 474.5 139.87 473.1 140.00 429.9 140.12 468.9 140.25 463.4 140.37 447.1 140.50 484.2 140.62 488.7 140.75 455.4 140.87 460.4 141.00 465.9 141.12 479.2 141.25 446.2 141.37 475.0 141.50 439.8 141.62 477.2 141.75 475.3 141.87 476.2 142.00 477.9 142.12 485.7 142.25 439.2 142.37 467.3 142.50 467.0 142.62 473.0 142.75 434.9 142.87 400.1 143.00 448.3 143.12 412.8 143.25 472.6 143.37 469.8 143.50 452.5 143.62 477.3 143.75 466.9 143.87 480.8 144.00 432.7 144.12 394.6 144.25 454.6 144.37 420.3 144.50 471.2 144.62 480.2 144.75 458.1 144.87 422.2 145.00 415.9 145.12 485.0 145.25 447.8 145.37 468.2 145.50 484.5 145.62 481.0 145.75 450.7 145.87 463.5 146.00 450.0 146.12 435.4 146.25 459.7 146.37 469.8 146.50 483.8 146.62 485.3 146.75 467.4 146.87 489.2 147.00 482.9 147.12 478.1 147.25 480.8 147.37 470.1 147.50 469.2 147.62 451.7 147.75 474.0 147.87 410.0 148.00 473.1 148.12 456.9 148.25 471.5 148.37 470.3 148.50 467.6 148.62 489.3 148.75 434.8 148.87 464.1 149.00 485.1 149.12 476.2 149.25 430.5 149.37 397.0 149.50 468.2 149.62 472.2 149.75 483.2 149.87 481.9 150.00 471.7 150.12 455.9 150.25 485.2 150.37 458.0 150.50 441.2 150.62 466.1 150.75 475.4 150.87 441.1 151.00 470.2 151.12 452.6 151.25 486.2 151.37 455.5 151.50 434.6 151.62 460.8 151.75 445.9 151.87 487.8 152.00 460.6 152.12 462.3 152.25 487.0 152.37 463.0 152.50 473.9 152.62 470.0 152.75 418.1 152.87 478.8 153.00 474.7 153.12 468.7 153.25 486.5 153.37 483.9 153.50 466.4 153.62 442.3 153.75 478.0 153.88 481.0 154.00 460.2 154.13 455.5 154.25 485.6 154.38 483.9 154.50 477.6 154.63 468.3 154.75 472.6 154.88 468.9 155.00 481.3 155.13 475.3 155.25 465.3 155.38 422.1 155.50 471.1 155.63 443.0 155.75 485.8 155.88 452.9 156.00 470.4 156.13 444.9 156.25 486.4 156.38 478.5 156.50 473.4 156.63 486.5 156.75 464.1 156.88 475.0 157.00 476.3 157.13 477.8 157.25 488.7 157.38 460.4 157.50 484.9 157.63 480.2 157.75 474.0 157.88 473.1 158.00 463.0 158.13 467.6 158.25 475.7 158.38 471.0 158.50 486.0 158.63 467.4 158.75 445.8 158.88 446.6 159.00 450.4 159.13 447.0 159.25 478.0 159.38 440.9 159.50 447.6 159.63 483.1 159.75 430.5 159.88 485.7 160.00 411.4 160.13 450.2 160.25 430.2 160.38 459.4 160.50 455.8 160.63 489.0 160.75 450.6 160.88 463.0 161.00 431.9 161.13 486.2 161.25 469.2 161.38 470.9 161.50 484.2 161.63 478.7 161.75 432.6 161.88 477.4 162.00 438.9 162.13 487.5 162.25 446.8 162.38 479.3 162.50 458.7 162.63 485.5 162.75 463.9 162.88 464.2 163.00 477.0 163.13 463.6 163.25 459.0 163.38 458.1 163.50 455.3 163.63 476.1 163.75 462.8 163.88 459.6 164.00 446.2 164.13 447.4 164.25 459.2 164.38 432.2 164.50 473.7 164.63 467.9 164.75 473.6 164.88 467.7 165.00 484.2 165.13 485.6 165.25 454.6 165.38 467.6 165.50 462.8 165.63 481.3 165.75 480.5 165.88 486.3 166.00 477.9 166.13 464.3 166.25 475.6 166.38 477.0 166.50 442.6 166.63 466.3 166.75 459.9 166.88 462.4 167.00 439.7 167.13 454.5 167.25 449.6 167.38 438.7 167.50 461.1 167.63 458.6 167.75 453.6 167.88 472.3 168.00 489.5 168.13 441.2 168.25 478.8 168.38 487.7 168.50 473.2 168.63 486.0 168.75 484.2 168.88 441.5 169.00 428.3 169.13 468.2 169.25 460.9 169.38 450.4 169.50 446.7 169.63 431.1 169.75 469.5 169.88 469.6 170.00 467.4 170.13 465.9 170.25 442.7 170.38 448.4 170.50 423.3 170.63 416.9 170.75 478.3 170.88 474.8 171.00 454.4 171.13 458.7 171.25 422.6 171.38 472.1 171.50 391.1 171.63 470.1 171.75 459.9 171.88 480.8 172.00 479.2 172.13 457.3 172.25 377.8 172.38 452.4 172.50 377.6 172.63 478.4 172.75 408.1 172.88 450.4 173.00 444.9 173.13 435.8 173.25 459.7 173.38 446.1 173.50 430.3 173.63 440.6 173.75 476.1 173.88 485.9 174.00 461.9 174.13 448.9 174.25 470.7 174.38 475.3 174.50 485.7 174.63 450.0 174.76 472.5 174.88 487.3 175.01 477.5 175.13 473.3 175.26 470.2 175.38 470.8 175.51 439.2 175.63 450.7 175.76 483.8 175.88 413.3 176.01 438.3 176.13 440.9 176.26 462.2 176.38 433.0 176.51 459.6 176.63 467.8 176.76 451.1 176.88 441.7 177.01 439.5 177.13 473.4 177.26 435.8 177.38 465.4 177.51 457.8 177.63 453.3 177.76 454.2 177.88 391.9 178.01 436.3 178.13 449.0 178.26 453.1 178.38 471.0 178.51 424.7 178.63 444.7 178.76 483.6 178.88 373.3 179.01 462.2 179.13 488.9 179.26 475.8 179.38 479.8 179.51 372.9 179.63 443.4 179.76 488.6 179.88 478.8 180.01 483.8 180.13 478.6 180.26 488.0 180.38 472.9 180.51 488.3 180.63 375.6 180.76 458.0 180.88 472.5 181.01 463.3 181.13 402.1 181.26 479.3 181.38 470.7 181.51 456.6 181.63 476.1 181.76 484.5 181.88 488.0 182.01 472.7 182.13 459.5 182.26 472.4 182.38 448.6 182.51 445.6 182.63 479.9 182.76 436.0 182.88 440.0 183.01 439.6 183.13 485.8 183.26 430.3 183.38 455.2 183.51 462.5 183.63 474.3 183.76 487.6 183.88 480.1 184.01 488.4 184.13 441.2 184.26 461.2 184.38 472.6 184.51 480.7 184.63 440.2 184.76 419.8 184.88 476.4 185.01 454.2 185.13 442.3 185.26 469.3 185.38 453.4 185.51 486.1 185.63 463.0 185.76 457.1 185.88 481.1 186.01 474.0 186.13 460.8 186.26 460.1 186.38 469.1 186.51 429.5 186.63 445.2 186.76 458.2 186.88 454.5 187.01 461.2 187.13 372.7 187.26 436.4 187.38 433.8 187.51 433.1 187.63 488.2 187.76 459.6 187.88 464.0 188.01 475.6 188.13 422.1 188.26 439.3 188.38 461.5 188.51 473.8 188.63 419.1 188.76 450.7 188.88 453.4 189.01 484.0 189.13 485.5 189.26 475.2 189.38 459.3 189.51 476.9 189.63 475.4 189.76 478.5 189.88 480.4 190.01 465.3 190.13 423.7 190.26 484.9 190.38 443.0 190.51 467.9 190.63 395.3 190.76 447.7 190.88 485.8 191.01 478.8 191.13 487.8 191.26 488.9 191.38 476.1 191.51 478.2 191.63 464.1 191.76 459.6 191.88 455.4 192.01 466.3 192.13 432.6 192.26 466.2 192.38 476.7 192.51 452.9 192.63 446.1 192.76 461.7 192.88 489.4 193.01 439.8 193.13 435.8 193.26 477.6 193.38 406.8 193.51 448.7 193.63 470.3 193.76 414.0 193.88 432.6 194.01 476.3 194.13 475.2 194.26 436.7 194.38 436.8 194.51 480.6 194.63 423.6 194.76 453.7 194.88 488.7 195.01 432.0 195.13 450.2 195.26 429.4 195.38 487.0 195.51 418.2 195.64 480.7 195.76 478.7 195.89 487.0 196.01 462.5 196.14 439.6 196.26 453.2 196.39 488.2 196.51 478.3 196.64 477.3 196.76 458.4 196.89 473.0 197.01 450.6 197.14 478.3 197.26 453.5 197.39 489.6 197.51 453.2 197.64 486.7 197.76 477.4 197.89 442.0 198.01 470.0 198.14 454.7 198.26 411.7 198.39 479.5 198.51 411.0 198.64 470.2 198.76 442.6 198.89 454.5 199.01 467.1 199.14 403.7 199.26 489.5 199.39 455.4 199.51 487.5 199.64 422.8 199.76 424.0 199.89 403.4 200.01 437.0 200.14 468.2 200.26 462.0 200.39 483.1 200.51 469.4 200.64 413.4 200.76 427.9 200.89 470.7 201.01 439.6 201.14 435.0 201.26 430.4 201.39 471.7 201.51 447.5 201.64 441.7 201.76 449.7 201.89 453.9 202.01 459.6 202.14 480.4 202.26 454.9 202.39 442.4 202.51 467.0 202.64 486.9 202.76 454.4 202.89 464.4 203.01 474.2 203.14 483.1 203.26 475.0 203.39 467.5 203.51 445.6 203.64 463.2 203.76 429.3 203.89 478.1 204.01 480.7 204.14 486.8 204.26 467.3 204.39 447.2 204.51 459.4 204.64 472.9 204.76 428.5 204.89 471.1 205.01 475.5 205.14 451.4 205.26 441.6 205.39 397.2 205.51 428.0 205.64 463.4 205.76 479.7 205.89 426.5 206.01 417.2 206.14 475.8 206.26 449.3 206.39 406.3 206.51 445.3 206.64 439.2 206.76 486.3 206.89 488.8 207.01 474.5 207.14 421.5 207.26 437.7 207.39 398.9 207.51 458.7 207.64 475.5 207.76 414.6 207.89 394.8 208.01 432.4 208.14 394.1 208.26 438.8 208.39 423.0 208.51 486.5 208.64 437.4 208.76 474.1 208.89 474.9 209.01 440.1 209.14 427.6 209.26 463.4 209.39 455.5 209.51 459.8 209.64 487.6 209.76 487.1 209.89 463.3 210.01 475.9 210.14 447.2 210.26 487.0 210.39 382.0 210.51 466.9 210.64 421.9 210.76 446.5 210.89 478.1 211.01 373.8 211.14 462.8 211.26 484.5 211.39 455.9 211.51 475.8 211.64 407.8 211.76 460.9 211.89 443.5 212.01 413.9 212.14 455.3 212.26 464.5 212.39 462.0 212.51 442.6 212.64 452.0 212.76 482.9 212.89 420.4 213.01 467.9 213.14 478.0 213.26 480.0 213.39 473.0 213.51 457.0 213.64 475.6 213.76 468.3 213.89 427.5 214.01 486.4 214.14 463.6 214.26 481.0 214.39 430.8 214.51 374.5 214.64 464.4 214.76 435.7 214.89 488.3 215.01 453.4 215.14 412.5 215.26 395.9 215.39 438.7 215.51 410.5 215.64 436.1 215.76 478.6 215.89 433.4 216.01 453.0 216.14 427.3 216.26 413.5 216.39 400.2 216.52 487.5 216.64 480.2 216.77 418.6 216.89 375.0 217.02 415.8 217.14 482.5 217.27 476.0 217.39 415.4 217.52 466.0 217.64 488.8 217.77 482.8 217.89 481.2 218.02 450.2 218.14 475.3 218.27 417.2 218.39 466.6 218.52 475.6 218.64 460.7 218.77 477.9 218.89 402.5 219.02 488.4 219.14 478.1 219.27 482.0 219.39 432.2 219.52 442.9 219.64 433.1 219.77 457.5 219.89 489.6 220.02 398.1 220.14 456.5 220.27 470.0 220.39 466.4 220.52 445.0 220.64 477.6 220.77 454.0 220.89 483.7 221.02 432.4 221.14 461.7 221.27 450.0 221.39 477.7 221.52 456.7 221.64 489.3 221.77 462.4 221.89 468.9 222.02 489.6 222.14 482.0 222.27 468.6 222.39 471.8 222.52 480.9 222.64 488.2 222.77 469.2 222.89 485.4 223.02 464.0 223.14 489.0 223.27 417.3 223.39 470.9 223.52 453.7 223.64 474.6 223.77 470.6 223.89 470.3 224.02 456.3 224.14 481.1 224.27 485.8 224.39 444.2 224.52 459.6 224.64 460.4 224.77 469.9 224.89 478.2 225.02 479.4 225.14 486.7 225.27 474.9 225.39 465.3 225.52 479.0 225.64 476.7 225.77 479.0 225.89 444.6 226.02 468.4 226.14 443.2 226.27 465.1 226.39 438.2 226.52 459.1 226.64 484.6 226.77 458.1 226.89 459.2 227.02 450.2 227.14 470.1 227.27 489.0 227.39 463.1 227.52 486.8 227.64 473.7 227.77 433.5 227.89 459.0 228.02 482.5 228.14 463.0 228.27 457.7 228.39 472.8 228.52 474.6 228.64 409.2 228.77 461.5 228.89 476.1 229.02 464.5 229.14 458.1 229.27 470.2 229.39 469.6 229.52 473.7 229.64 465.7 229.77 465.9 229.89 488.7 230.02 443.4 230.14 449.8 230.27 483.6 230.39 451.8 230.52 474.1 230.64 486.4 230.77 419.7 230.89 454.7 231.02 462.2 231.14 472.4 231.27 463.6 231.39 438.8 231.52 426.6 231.64 476.6 231.77 482.6 231.89 488.2 232.02 475.5 232.14 475.1 232.27 481.0 232.39 473.4 232.52 451.7 232.64 452.8 232.77 467.7 232.89 485.5 233.02 445.1 233.14 469.7 233.27 480.9 233.39 468.7 233.52 488.5 233.64 387.4 233.77 443.0 233.89 447.8 234.02 443.0 234.14 447.1 234.27 480.3 234.39 417.5 234.52 467.8 234.64 458.1 234.77 476.6 234.89 479.2 235.02 474.5" stroke="#707070" stroke-width="0.6" fill="none" stroke-linejoin="bevel"/><path d="M443.19 478.3 443.32 483.3 443.44 449.0 443.57 477.2 443.69 482.5 443.82 437.3 443.94 475.2 444.07 474.2 444.19 471.6 444.32 466.0 444.44 483.5 444.57 459.8 444.69 468.3 444.82 450.0 444.94 462.0 445.07 424.1 445.19 484.7 445.32 489.3 445.44 489.4 445.57 446.8 445.70 452.8 445.82 437.9 445.95 466.8 446.07 470.4 446.20 458.0 446.32 470.8 446.45 418.1 446.57 458.6 446.70 470.4 446.82 460.6 446.95 486.0 447.07 478.9 447.20 437.6 447.32 482.8 447.45 455.4 447.57 451.0 447.70 457.4 447.82 466.1 447.95 457.6 448.07 469.4 448.20 488.0 448.32 476.5 448.45 469.5 448.57 476.5 448.70 489.3 448.82 460.0 448.95 455.4 449.07 484.3 449.20 486.8 449.32 473.6 449.45 412.5 449.57 484.8 449.70 485.5 449.82 436.3 449.95 425.9 450.07 430.1 450.20 440.1 450.32 486.1 450.45 425.7 450.57 483.3 450.70 475.9 450.82 489.3 450.95 474.7 451.07 472.3 451.20 461.7 451.32 464.8 451.45 441.4 451.57 464.4 451.70 478.6 451.82 458.4 451.95 455.5 452.07 444.8 452.20 462.9 452.32 461.2 452.45 456.0 452.57 434.0 452.70 462.3 452.82 477.0 452.95 448.6 453.07 442.9 453.20 406.1 453.32 479.4 453.45 474.2 453.57 487.4 453.70 464.6 453.82 477.2 453.95 454.0 454.07 453.4 454.20 484.6 454.32 489.5 454.45 439.7 454.57 444.1 454.70 488.5 454.82 466.2 454.95 477.4 455.07 472.7 455.20 456.6 455.32 469.7 455.45 478.7 455.57 441.2 455.70 469.9 455.82 472.8 455.95 476.9 456.07 477.3 456.20 463.7 456.32 483.6 456.45 470.2 456.57 459.0 456.70 464.6 456.82 475.1 456.95 476.7 457.07 461.2 457.20 489.4 457.32 489.2 457.45 471.7 457.57 463.1 457.70 468.1 457.82 447.2 457.95 487.6 458.07 470.4 458.20 482.8 458.32 472.1 458.45 476.0 458.57 476.6 458.70 481.7 458.82 458.0 458.95 476.9 459.07 477.4 459.20 475.1 459.32 480.8 459.45 480.1 459.57 475.0 459.70 473.7 459.82 478.8 459.95 486.8 460.07 486.9 460.20 489.0 460.32 473.7 460.45 436.1 460.57 484.0 460.70 466.2 460.82 480.0 460.95 485.6 461.07 481.0 461.20 439.6 461.32 478.8 461.45 471.8 461.57 456.6 461.70 434.5 461.82 460.5 461.95 466.2 462.07 462.1 462.20 483.6 462.32 460.0 462.45 479.2 462.57 443.7 462.70 476.0 462.82 477.7 462.95 430.5 463.07 473.8 463.20 465.9 463.32 467.0 463.45 467.1 463.57 443.7 463.70 455.1 463.82 488.2 463.95 476.6 464.07 453.1 464.20 454.6 464.32 480.3 464.45 472.2 464.57 480.5 464.70 487.4 464.82 427.2 464.95 453.3 465.07 485.9 465.20 467.4 465.32 488.4 465.45 489.1 465.57 450.6 465.70 459.7 465.82 481.8 465.95 482.1 466.07 445.3 466.20 476.9 466.32 438.3 466.45 476.5 466.58 437.8 466.70 471.8 466.83 443.6 466.95 443.6 467.08 468.4 467.20 404.0 467.33 447.8 467.45 447.6 467.58 451.0 467.70 481.9 467.83 486.5 467.95 480.1 468.08 466.0 468.20 488.3 468.33 451.3 468.45 419.8 468.58 426.8 468.70 475.5 468.83 488.3 468.95 424.1 469.08 483.7 469.20 406.0 469.33 440.2 469.45 471.3 469.58 431.9 469.70 449.1 469.83 426.0 469.95 485.2 470.08 468.1 470.20 447.4 470.33 370.6 470.45 477.6 470.58 399.8 470.70 462.4 470.83 478.2 470.95 475.8 471.08 442.2 471.20 486.6 471.33 455.4 471.45 422.7 471.58 451.5 471.70 488.5 471.83 435.0 471.95 466.8 472.08 455.3 472.20 427.0 472.33 448.1 472.45 486.5 472.58 398.3 472.70 451.2 472.83 418.8 472.95 459.4 473.08 442.0 473.20 442.1 473.33 475.9 473.45 445.1 473.58 451.0 473.70 469.9 473.83 456.7 473.95 430.7 474.08 468.3 474.20 478.7 474.33 423.3 474.45 467.1 474.58 444.7 474.70 486.9 474.83 445.9 474.95 423.7 475.08 430.4 475.20 439.9 475.33 430.3 475.45 466.9 475.58 362.1 475.70 471.9 475.83 451.4 475.95 468.5 476.08 455.0 476.20 452.1 476.33 417.1 476.45 422.8 476.58 441.0 476.70 478.7 476.83 442.0 476.95 466.5 477.08 481.3 477.20 447.3 477.33 462.0 477.45 481.7 477.58 482.8 477.70 461.3 477.83 417.4 477.95 468.9 478.08 473.2 478.20 477.8 478.33 443.4 478.45 463.3 478.58 465.6 478.70 450.8 478.83 460.7 478.95 452.3 479.08 482.3 479.20 447.5 479.33 404.5 479.45 470.1 479.58 409.1 479.70 411.8 479.83 489.1 479.95 399.6 480.08 427.1 480.20 484.8 480.33 462.3 480.45 454.0 480.58 465.9 480.70 467.0 480.83 402.2 480.95 473.2 481.08 423.3 481.20 419.7 481.33 432.5 481.45 436.3 481.58 459.8 481.70 482.6 481.83 478.0 481.95 469.1 482.08 452.6 482.20 472.9 482.33 483.6 482.45 433.9 482.58 476.6 482.70 443.9 482.83 470.1 482.95 420.3 483.08 432.4 483.20 481.2 483.33 469.6 483.45 438.2 483.58 445.9 483.70 432.7 483.83 455.3 483.95 480.3 484.08 386.4 484.20 443.1 484.33 486.4 484.45 407.5 484.58 451.7 484.70 486.8 484.83 463.8 484.95 445.7 485.08 436.0 485.20 415.4 485.33 482.5 485.45 478.4 485.58 484.8 485.70 465.2 485.83 411.5 485.95 472.0 486.08 465.8 486.20 443.9 486.33 458.3 486.45 435.3 486.58 481.3 486.70 474.6 486.83 465.6 486.95 398.1 487.08 459.0 487.20 460.7 487.33 486.7 487.46 460.7 487.58 401.1 487.71 467.6 487.83 481.3 487.96 376.4 488.08 384.0 488.21 453.7 488.33 485.7 488.46 465.9 488.58 463.9 488.71 451.2 488.83 431.5 488.96 484.4 489.08 415.3 489.21 427.8 489.33 407.5 489.46 453.9 489.58 483.5 489.71 389.5 489.83 422.6 489.96 463.0 490.08 456.2 490.21 443.5 490.33 468.9 490.46 471.9 490.58 485.3 490.71 480.1 490.83 440.0 490.96 436.0 491.08 474.0 491.21 489.6 491.33 477.0 491.46 482.7 491.58 483.8 491.71 401.5 491.83 441.3 491.96 481.2 492.08 429.3 492.21 477.0 492.33 450.7 492.46 466.7 492.58 444.6 492.71 464.9 492.83 404.5 492.96 390.0 493.08 485.3 493.21 453.6 493.33 464.4 493.46 484.8 493.58 450.4 493.71 465.5 493.83 461.1 493.96 426.3 494.08 475.0 494.21 475.4 494.33 416.5 494.46 482.6 494.58 465.0 494.71 412.3 494.83 482.7 494.96 427.0 495.08 464.2 495.21 404.4 495.33 479.5 495.46 460.0 495.58 485.9 495.71 446.0 495.83 351.7 495.96 423.5 496.08 442.9 496.21 485.3 496.33 480.4 496.46 448.1 496.58 479.4 496.71 407.8 496.83 466.2 496.96 463.1 497.08 478.6 497.21 452.8 497.33 476.5 497.46 421.4 497.58 448.4 497.71 464.6 497.83 459.9 497.96 484.6 498.08 411.3 498.21 440.5 498.33 462.5 498.46 486.9 498.58 445.2 498.71 472.5 498.83 438.8 498.96 434.1 499.08 430.1 499.21 488.0 499.33 451.7 499.46 420.2 499.58 450.0 499.71 429.8 499.83 447.0 499.96 386.5 500.08 460.3 500.21 471.7 500.33 483.1 500.46 444.4 500.58 429.7 500.71 485.8 500.83 464.8 500.96 411.0 501.08 469.6 501.21 480.3 501.33 416.6 501.46 348.3 501.58 479.8 501.71 471.8 501.83 435.1 501.96 460.6 502.08 480.7 502.21 479.0 502.33 422.8 502.46 470.7 502.58 449.7 502.71 464.4 502.83 478.0 502.96 420.1 503.08 471.7 503.21 467.6 503.33 455.7 503.46 479.6 503.58 459.0 503.71 484.2 503.83 449.4 503.96 432.9 504.08 444.7 504.21 438.0 504.33 407.8 504.46 438.7 504.58 400.4 504.71 478.6 504.83 467.4 504.96 483.5 505.08 485.8 505.21 406.5 505.33 434.2 505.46 475.4 505.58 480.6 505.71 466.1 505.83 358.4 505.96 452.7 506.08 477.2 506.21 468.4 506.33 428.4 506.46 439.8 506.58 461.3 506.71 364.3 506.83 489.5 506.96 452.7 507.08 451.0 507.21 442.8 507.33 437.0 507.46 407.4 507.58 391.7 507.71 475.4 507.83 480.9 507.96 449.0 508.08 477.1 508.21 414.6 508.34 475.8 508.46 408.7 508.59 458.6 508.71 432.7 508.84 400.2 508.96 445.9 509.09 472.8 509.21 406.4 509.34 450.5 509.46 469.9 509.59 465.9 509.71 470.0 509.84 482.4 509.96 431.3 510.09 437.8 510.21 461.5 510.34 470.0 510.46 484.0 510.59 450.9 510.71 424.9 510.84 482.9 510.96 471.1 511.09 475.9 511.21 453.8 511.34 422.2 511.46 457.3 511.59 471.4 511.71 444.2 511.84 464.0 511.96 477.2 512.09 458.8 512.21 462.9 512.34 421.1 512.46 349.8 512.59 472.5 512.71 427.5 512.84 400.5 512.96 474.3 513.09 473.5 513.21 440.4 513.34 464.2 513.46 481.9 513.59 421.5 513.71 475.0 513.84 470.3 513.96 432.0 514.09 442.5 514.21 441.4 514.34 404.7 514.46 459.0 514.59 416.2 514.71 451.4 514.84 478.0 514.96 452.8 515.09 476.3 515.21 438.9 515.34 424.4 515.46 433.0 515.59 487.1 515.71 382.4 515.84 454.6 515.96 476.1 516.09 488.9 516.21 485.4 516.34 438.7 516.46 449.5 516.59 459.0 516.71 458.5 516.84 484.1 516.96 484.9 517.09 473.5 517.21 474.5 517.34 472.6 517.46 433.7 517.59 453.8 517.71 463.7 517.84 422.1 517.96 463.6 518.09 453.3 518.21 446.4 518.34 446.1 518.46 451.0 518.59 398.5 518.71 400.9 518.84 478.5 518.96 388.1 519.09 452.2 519.21 464.1 519.34 459.9 519.46 453.9 519.59 472.9 519.71 415.9 519.84 486.8 519.96 456.7 520.09 454.9 520.21 485.6 520.34 485.9 520.46 391.3 520.59 479.0 520.71 489.1 520.84 484.1 520.96 428.3 521.09 424.6 521.21 405.3 521.34 458.0 521.46 466.1 521.59 431.3 521.71 462.0 521.84 488.1 521.96 401.7 522.09 465.3 522.21 461.3 522.34 489.5 522.46 430.9 522.59 411.0 522.71 460.5 522.84 446.9 522.96 474.0 523.09 476.9 523.21 443.0 523.34 478.5 523.46 424.1 523.59 403.1 523.71 440.7 523.84 478.7 523.96 458.7 524.09 452.0 524.21 405.8 524.34 427.8 524.46 463.0 524.59 398.7 524.71 485.5 524.84 455.8 524.96 448.2 525.09 423.2 525.21 471.5 525.34 410.0 525.46 451.6 525.59 454.7 525.71 450.1 525.84 421.2 525.96 465.2 526.09 461.4 526.21 416.7 526.34 426.3 526.46 464.1 526.59 473.3 526.71 483.0 526.84 428.8 526.96 472.9 527.09 463.0 527.21 410.6 527.34 479.9 527.46 428.9 527.59 484.8 527.71 421.2 527.84 478.1 527.96 486.0 528.09 443.7 528.21 473.9 528.34 391.8 528.46 443.2 528.59 437.5 528.71 474.4 528.84 339.4 528.96 478.2 529.09 419.2 529.22 447.6 529.34 430.0 529.47 432.3 529.59 479.9 529.72 432.0 529.84 483.4 529.97 431.2 530.09 433.4 530.22 454.7 530.34 452.9 530.47 480.1 530.59 454.1 530.72 454.6 530.84 484.8 530.97 420.0 531.09 453.3 531.22 446.3 531.34 387.0 531.47 477.9 531.59 460.2 531.72 455.2 531.84 387.8 531.97 473.1 532.09 467.2 532.22 461.5 532.34 438.7 532.47 456.3 532.59 483.1 532.72 484.5 532.84 475.0 532.97 408.4 533.09 439.7 533.22 457.4 533.34 488.4 533.47 437.8 533.59 467.5 533.72 458.6 533.84 337.6 533.97 436.9 534.09 460.7 534.22 405.0 534.34 478.3 534.47 439.0 534.59 405.3 534.72 463.1 534.84 470.1 534.97 450.4 535.09 457.6 535.22 403.5 535.34 450.0 535.47 414.5 535.59 452.8 535.72 488.4 535.84 407.1 535.97 401.9 536.09 475.9 536.22 424.6 536.34 385.9 536.47 404.1 536.59 456.9 536.72 426.8 536.84 479.7 536.97 445.8 537.09 478.3 537.22 391.1 537.34 444.2 537.47 465.2 537.59 435.7 537.72 456.9 537.84 487.8 537.97 406.6 538.09 474.2 538.22 394.9 538.34 421.0 538.47 461.7 538.59 440.0 538.72 483.8 538.84 422.4 538.97 467.1 539.09 419.9 539.22 484.3 539.34 431.7 539.47 424.5 539.59 401.7 539.72 387.8 539.84 458.4 539.97 445.0 540.09 486.9 540.22 468.4 540.34 439.1 540.47 454.3 540.59 405.1 540.72 482.7 540.84 382.6 540.97 482.2 541.09 487.7 541.22 408.4 541.34 463.2 541.47 483.8 541.59 407.5 541.72 439.8 541.84 406.0 541.97 465.5 542.09 470.5 542.22 483.4 542.34 443.5 542.47 458.1 542.59 471.2 542.72 387.2 542.84 418.3 542.97 487.3 543.09 468.8 543.22 455.3 543.34 444.0 543.47 468.2 543.59 461.2 543.72 444.0 543.84 439.9 543.97 464.1 544.09 467.7 544.22 470.3 544.34 466.2 544.47 483.5 544.59 440.3 544.72 472.8 544.84 409.1 544.97 337.6 545.09 422.7 545.22 396.2 545.34 468.1 545.47 461.7 545.59 478.9 545.72 444.7 545.84 410.3 545.97 422.0 546.09 453.3 546.22 452.0 546.34 476.8 546.47 485.6 546.59 409.3 546.72 477.7 546.84 481.5 546.97 457.2 547.09 441.3 547.22 456.2 547.34 457.5 547.47 481.1 547.59 441.2 547.72 352.9 547.84 470.6 547.97 469.5 548.09 477.1 548.22 423.5 548.34 430.1 548.47 437.2 548.59 446.1 548.72 459.1 548.84 447.3 548.97 478.8 549.09 433.2 549.22 462.7 549.34 457.3 549.47 462.9 549.59 465.4 549.72 461.3 549.84 458.1 549.97 475.8 550.10 480.2 550.22 407.2 550.35 437.7 550.47 426.4 550.60 461.3 550.72 403.8 550.85 435.2 550.97 435.7 551.10 376.3 551.22 469.9 551.35 475.5 551.47 475.9 551.60 475.2 551.72 452.5 551.85 440.2 551.97 473.0 552.10 484.0 552.22 426.7 552.35 480.8 552.47 438.2 552.60 441.4 552.72 434.2 552.85 460.0 552.97 462.4 553.10 483.9 553.22 480.4 553.35 419.5 553.47 422.9 553.60 470.2 553.72 439.8 553.85 481.4 553.97 485.9 554.10 444.8 554.22 430.7 554.35 477.7 554.47 451.6 554.60 385.3 554.72 467.3 554.85 456.9 554.97 383.1 555.10 467.0 555.22 379.9 555.35 396.4 555.47 404.4 555.60 478.6 555.72 400.1 555.85 473.9 555.97 436.7 556.10 421.3 556.22 444.7 556.35 486.0 556.47 410.7 556.60 486.9 556.72 457.3 556.85 460.9 556.97 426.4 557.10 439.5 557.22 450.3 557.35 412.8 557.47 425.6 557.60 377.4 557.72 477.4 557.85 419.0 557.97 457.7 558.10 477.5 558.22 458.5 558.35 409.4 558.47 434.3 558.60 435.5 558.72 410.6 558.85 430.7 558.97 465.5 559.10 414.6 559.22 402.7 559.35 484.8 559.47 479.1 559.60 443.7 559.72 477.8 559.85 408.2 559.97 482.4 560.10 470.2 560.22 481.9 560.35 441.4 560.47 485.3 560.60 453.2 560.72 416.0 560.85 438.3 560.97 406.0 561.10 450.1 561.22 400.7 561.35 412.7 561.47 452.0 561.60 457.5 561.72 481.3 561.85 485.3 561.97 435.0 562.10 407.0 562.22 415.6 562.35 393.7 562.47 419.5 562.60 464.2 562.72 468.5 562.85 482.9 562.97 464.2 563.10 486.3 563.22 473.3 563.35 454.6 563.47 475.2 563.60 473.9 563.72 485.4 563.85 475.6 563.97 469.0 564.10 456.9 564.22 454.3 564.35 485.7 564.47 461.7 564.60 466.3 564.72 450.7 564.85 388.6 564.97 417.9 565.10 444.8 565.22 392.0 565.35 425.3 565.47 483.4 565.60 384.2 565.72 441.3 565.85 482.3 565.97 469.3 566.10 478.1 566.22 375.0 566.35 474.3 566.47 486.3 566.60 471.8 566.72 441.9 566.85 468.2 566.97 484.1 567.10 417.3 567.22 484.8 567.35 368.9 567.47 391.9 567.60 437.7 567.72 361.7 567.85 485.1 567.97 489.3 568.10 458.9 568.22 405.3 568.35 487.5 568.47 450.5 568.60 430.2 568.72 477.2 568.85 470.7 568.97 419.8 569.10 469.5 569.22 398.0 569.35 482.7 569.47 470.9 569.60 401.2 569.72 444.7 569.85 469.7 569.97 414.4 570.10 409.6 570.22 425.7 570.35 399.2 570.47 464.4 570.60 411.7 570.72 403.2 570.85 469.8 570.98 455.0 571.10 485.2 571.23 409.3 571.35 394.6 571.48 487.8 571.60 343.1 571.73 391.0 571.85 484.1 571.98 424.3 572.10 416.2 572.23 462.2 572.35 467.3 572.48 374.4 572.60 471.1 572.73 468.0 572.85 450.2 572.98 477.1 573.10 384.4 573.23 470.7 573.35 365.9 573.48 420.8 573.60 401.9 573.73 460.2 573.85 389.0 573.98 488.7 574.10 383.3 574.23 473.9 574.35 430.0 574.48 441.0 574.60 474.9 574.73 480.8 574.85 447.7 574.98 473.2 575.10 471.2 575.23 441.7 575.35 448.5 575.48 421.2 575.60 465.7 575.73 426.3 575.85 431.4 575.98 465.7 576.10 381.8 576.23 487.8 576.35 456.8 576.48 426.7 576.60 469.9 576.73 482.9 576.85 337.6 576.98 464.0 577.10 452.9 577.23 449.1 577.35 473.5 577.48 475.1 577.60 394.9 577.73 479.2 577.85 457.6 577.98 428.8 578.10 398.0 578.23 472.8 578.35 443.5 578.48 484.3 578.60 474.9 578.73 453.0 578.85 462.3 578.98 365.4 579.10 442.6 579.23 429.6 579.35 482.4 579.48 449.1 579.60 444.3 579.73 481.7 579.85 471.4 579.98 481.2 580.10 457.2 580.23 445.5 580.35 486.4 580.48 474.7 580.60 464.9 580.73 477.0 580.85 479.4 580.98 434.2 581.10 480.4 581.23 438.3 581.35 484.1 581.48 473.1 581.60 450.9 581.73 432.8 581.85 463.1 581.98 463.1 582.10 455.3 582.23 461.7 582.35 427.6 582.48 451.3 582.60 485.0 582.73 473.3 582.85 442.1 582.98 429.5 583.10 467.3 583.23 454.9 583.35 429.3 583.48 415.5 583.60 470.1 583.73 439.8 583.85 465.2 583.98 475.2 584.10 473.6 584.23 486.4 584.35 465.0 584.48 463.5 584.60 415.4 584.73 401.4 584.85 487.8 584.98 437.2 585.10 447.6 585.23 379.1 585.35 451.7 585.48 464.0 585.60 442.8 585.73 445.1 585.85 383.0 585.98 442.0 586.10 405.3 586.23 422.1 586.35 417.5 586.48 473.6 586.60 400.8 586.73 479.6 586.85 405.9 586.98 469.0 587.10 404.4 587.23 438.5 587.35 463.7 587.48 426.0 587.60 448.3 587.73 488.3 587.85 455.6 587.98 454.0 588.10 405.5 588.23 403.4 588.35 455.1 588.48 453.9 588.60 455.7 588.73 468.8 588.85 484.2 588.98 402.8 589.10 384.6 589.23 452.5 589.35 417.4 589.48 439.4 589.60 382.0 589.73 403.5 589.85 469.9 589.98 444.4 590.10 449.5 590.23 369.5 590.35 367.9 590.48 387.2 590.60 430.0 590.73 479.0 590.85 418.6 590.98 421.2 591.10 423.2 591.23 471.8 591.35 473.6 591.48 451.3 591.60 407.5 591.73 389.9 591.86 402.4 591.98 393.2 592.11 472.3 592.23 486.1 592.36 425.4 592.48 479.6 592.61 466.0 592.73 357.4 592.86 474.0 592.98 487.9 593.11 429.2 593.23 458.7 593.36 472.1 593.48 417.0 593.61 489.0 593.73 465.1 593.86 454.8 593.98 432.2 594.11 488.4 594.23 467.5 594.36 485.6 594.48 449.5 594.61 456.4 594.73 480.6 594.86 473.7 594.98 484.8 595.11 385.9 595.23 432.3 595.36 479.9 595.48 476.1 595.61 434.7 595.73 470.2 595.86 485.7 595.98 450.8 596.11 475.5 596.23 476.8 596.36 450.9 596.48 483.9 596.61 488.3 596.73 432.8 596.86 461.8 596.98 420.2 597.11 478.3 597.23 474.3 597.36 489.1 597.48 409.1 597.61 440.6 597.73 453.2 597.86 394.4 597.98 447.5 598.11 421.6 598.23 452.0 598.36 462.6 598.48 443.2 598.61 428.5 598.73 449.8 598.86 467.9 598.98 468.7 599.11 413.2 599.23 427.9 599.36 484.4 599.48 416.2 599.61 389.7 599.73 429.7 599.86 447.7 599.98 454.6 600.11 426.5 600.23 426.9 600.36 466.1 600.48 439.6 600.61 471.9 600.73 380.6 600.86 339.4 600.98 451.6 601.11 479.9 601.23 489.4 601.36 458.3 601.48 388.2 601.61 461.1 601.73 439.7 601.86 460.0 601.98 456.7 602.11 480.0 602.23 468.6 602.36 477.5 602.48 459.3 602.61 487.2 602.73 468.2 602.86 453.4 602.98 484.7 603.11 451.0 603.23 478.9 603.36 456.1 603.48 476.4 603.61 407.5 603.73 489.5 603.86 447.6 603.98 451.4 604.11 409.3 604.23 377.5 604.36 457.6 604.48 437.4 604.61 458.7 604.73 484.3 604.86 453.5 604.98 430.1 605.11 475.7 605.23 388.7 605.36 463.5 605.48 433.8 605.61 475.8 605.73 469.7 605.86 358.7 605.98 452.5 606.11 449.4 606.23 473.2 606.36 389.5 606.48 446.3 606.61 486.1 606.73 489.1 606.86 474.5 606.98 481.9 607.11 459.0 607.23 463.1 607.36 432.3 607.48 346.1 607.61 425.2 607.73 467.7 607.86 424.3 607.98 436.2 608.11 468.8 608.23 420.9 608.36 376.5 608.48 466.8 608.61 463.2 608.73 475.8 608.86 450.1 608.98 453.1 609.11 475.2 609.23 405.2 609.36 343.2 609.48 477.2 609.61 475.9 609.73 480.5 609.86 437.8 609.98 454.2 610.11 422.4 610.23 475.9 610.36 448.7 610.48 475.0 610.61 477.0 610.73 486.7 610.86 409.4 610.98 465.2 611.11 477.6 611.23 473.9 611.36 387.7 611.48 470.4 611.61 455.0 611.73 486.8 611.86 444.2 611.98 440.7 612.11 447.3 612.23 408.5 612.36 457.7 612.49 481.8 612.61 444.9 612.74 473.8 612.86 403.4 612.99 379.8 613.11 440.2 613.24 447.4 613.36 442.0 613.49 448.0 613.61 486.0 613.74 470.6 613.86 472.1 613.99 358.7 614.11 463.2 614.24 463.1 614.36 479.3 614.49 459.8 614.61 486.9 614.74 478.6 614.86 421.9 614.99 488.7 615.11 455.0 615.24 403.9 615.36 471.9 615.49 437.7 615.61 463.8 615.74 422.1 615.86 468.7 615.99 449.1 616.11 437.9 616.24 462.9 616.36 481.0 616.49 461.9 616.61 461.1 616.74 485.9 616.86 466.7 616.99 448.6 617.11 484.6 617.24 486.7 617.36 488.6 617.49 453.3 617.61 467.6 617.74 482.4 617.86 458.0 617.99 381.0 618.11 460.3 618.24 478.7 618.36 481.3 618.49 459.8 618.61 477.1 618.74 487.7 618.86 463.3 618.99 468.8 619.11 401.5 619.24 347.7 619.36 419.5 619.49 477.2 619.61 471.7 619.74 461.7 619.86 397.9 619.99 449.1 620.11 463.5 620.24 483.9 620.36 440.3 620.49 486.8 620.61 388.7 620.74 448.5 620.86 482.8 620.99 440.0 621.11 423.7 621.24 479.3 621.36 438.6 621.49 405.1 621.61 461.3 621.74 479.4 621.86 489.5 621.99 486.2 622.11 371.4 622.24 377.2 622.36 372.8 622.49 462.3 622.61 480.1 622.74 395.9 622.86 481.6 622.99 475.8 623.11 466.8 623.24 398.7 623.36 467.1 623.49 403.3 623.61 482.2 623.74 464.6 623.86 481.7 623.99 432.2 624.11 403.2 624.24 378.8 624.36 464.3 624.49 485.8 624.61 486.0 624.74 484.9 624.86 483.5 624.99 418.7 625.11 481.6 625.24 458.2 625.36 419.8 625.49 432.2 625.61 459.0 625.74 454.5 625.86 468.3 625.99 472.3 626.11 449.0 626.24 422.1 626.36 481.3 626.49 458.8 626.61 465.1 626.74 474.2 626.86 487.5 626.99 446.4 627.11 443.1 627.24 463.5 627.36 464.7 627.49 455.6 627.61 437.3 627.74 404.7 627.86 485.3 627.99 485.7 628.11 475.4 628.24 462.2 628.36 470.8 628.49 483.9 628.61 425.1 628.74 481.2 628.86 448.8 628.99 444.4 629.11 442.0 629.24 447.3 629.36 469.7 629.49 403.3 629.61 382.2 629.74 354.5 629.86 450.7 629.99 363.2 630.11 424.7 630.24 477.6 630.36 417.9 630.49 479.0 630.61 468.8 630.74 480.4 630.86 477.8 630.99 461.9 631.11 478.0 631.24 480.6 631.36 471.0 631.49 489.1 631.61 412.8 631.74 388.2 631.86 480.5 631.99 434.0 632.11 467.7 632.24 483.8 632.36 474.3 632.49 416.1 632.61 422.1 632.74 444.1 632.86 461.4 632.99 432.1 633.11 488.6 633.24 420.0 633.37 449.3 633.49 456.3 633.62 446.8 633.74 466.6 633.87 474.5 633.99 480.7 634.12 452.6 634.24 436.8 634.37 481.0 634.49 437.0 634.62 473.3 634.74 473.7 634.87 422.4 634.99 375.1 635.12 481.4 635.24 435.1 635.37 410.3 635.49 434.8 635.62 473.7 635.74 485.8 635.87 462.9 635.99 398.7 636.12 437.3 636.24 469.6 636.37 482.4 636.49 487.1 636.62 450.6 636.74 410.8 636.87 481.2 636.99 447.9 637.12 455.1 637.24 457.9 637.37 482.6 637.49 467.5 637.62 474.9 637.74 456.7 637.87 458.1 637.99 376.8 638.12 462.4 638.24 430.5 638.37 448.5 638.49 417.3 638.62 458.7 638.74 468.9 638.87 465.0 638.99 439.2 639.12 430.8 639.24 481.9 639.37 483.2 639.49 402.8 639.62 460.3 639.74 438.0 639.87 485.0 639.99 448.6 640.12 476.0 640.24 466.3 640.37 413.7 640.49 424.0 640.62 479.0 640.74 486.0 640.87 469.6 640.99 451.7 641.12 478.3 641.24 464.3 641.37 480.1 641.49 459.1 641.62 482.3 641.74 473.6 641.87 485.8 641.99 441.4 642.12 477.6 642.24 465.9 642.37 487.6 642.49 461.2 642.62 459.0 642.74 421.4 642.87 463.4 642.99 463.6 643.12 477.3 643.24 383.8 643.37 469.1 643.49 481.1 643.62 439.1 643.74 485.1 643.87 462.8 643.99 448.5 644.12 477.9 644.24 457.8 644.37 478.2 644.49 457.7 644.62 448.2 644.74 472.7 644.87 454.3 644.99 444.7 645.12 477.5 645.24 460.5 645.37 408.8 645.49 452.7 645.62 471.7 645.74 474.2 645.87 429.2 645.99 418.1 646.12 477.5 646.24 456.1 646.37 446.9 646.49 466.0 646.62 444.4 646.74 475.8 646.87 432.6 646.99 438.4 647.12 475.2 647.24 437.6 647.37 415.9 647.49 447.7 647.62 485.1 647.74 466.1 647.87 430.0 647.99 476.3 648.12 465.4 648.24 486.4 648.37 462.4 648.49 456.0 648.62 450.5 648.74 489.6 648.87 448.6 648.99 488.9 649.12 482.4 649.24 467.6 649.37 475.5 649.49 469.2 649.62 436.0 649.74 453.6 649.87 483.0 649.99 464.9 650.12 401.6 650.24 440.7 650.37 448.0 650.49 456.4 650.62 480.9 650.74 463.5 650.87 482.4 650.99 481.7 651.12 440.5 651.24 474.5 651.37 411.7 651.49 457.0 651.62 487.7 651.74 431.9 651.87 476.5 651.99 473.1 652.12 483.2 652.24 459.7 652.37 459.7 652.49 465.9 652.62 465.6 652.74 457.2 652.87 457.0 652.99 482.2 653.12 437.7 653.24 484.3 653.37 462.6 653.49 473.8 653.62 485.0 653.74 467.4 653.87 432.5 653.99 484.9 654.12 465.3 654.25 461.8 654.37 456.7 654.50 468.3 654.62 474.0 654.75 474.8 654.87 475.9 655.00 403.2 655.12 420.5 655.25 486.1 655.37 484.7 655.50 469.8 655.62 453.0 655.75 468.5 655.87 468.4 656.00 449.8 656.12 481.4 656.25 449.4 656.37 460.0 656.50 465.2 656.62 475.8 656.75 485.7 656.87 414.5 657.00 458.3 657.12 458.7 657.25 443.4 657.37 436.7 657.50 457.7 657.62 422.5 657.75 478.1 657.87 476.4 658.00 451.3 658.12 464.7 658.25 453.5 658.37 481.4 658.50 489.1 658.62 488.8 658.75 461.7 658.87 483.3 659.00 478.2 659.12 442.8 659.25 486.0 659.37 467.2 659.50 481.4 659.62 471.9 659.75 481.7 659.87 477.0 660.00 471.0 660.12 486.3 660.25 489.2 660.37 458.1 660.50 403.9 660.62 407.8 660.75 489.5 660.87 457.4 661.00 483.5 661.12 484.6 661.25 475.2 661.37 488.8 661.50 486.6 661.62 460.7 661.75 482.8 661.87 477.0 662.00 486.9 662.12 401.6 662.25 483.3 662.37 480.1 662.50 479.7 662.62 477.8 662.75 448.3 662.87 477.5 663.00 482.2 663.12 472.0 663.25 461.4 663.37 476.5 663.50 436.5 663.62 440.4 663.75 484.3 663.87 479.5 664.00 435.1 664.12 440.2 664.25 477.4 664.37 456.5 664.50 454.7 664.62 452.8 664.75 482.6 664.87 461.7 665.00 486.6 665.12 403.7 665.25 460.2 665.37 456.4 665.50 475.7 665.62 480.6 665.75 466.5 665.87 478.1 666.00 480.9 666.12 483.6 666.25 488.9 666.37 465.4 666.50 456.8 666.62 470.4 666.75 486.2 666.87 481.7 667.00 480.6 667.12 461.5 667.25 413.9 667.37 447.0 667.50 457.7 667.62 479.2 667.75 465.7 667.87 476.4 668.00 443.1 668.12 486.6 668.25 475.3 668.37 484.3 668.50 467.1 668.62 447.0 668.75 450.2 668.87 483.8 669.00 470.8 669.12 486.6 669.25 449.5 669.37 486.3 669.50 481.0 669.62 422.1 669.75 484.6 669.87 467.3 670.00 428.1 670.12 464.6 670.25 458.4 670.37 438.0 670.50 476.2 670.62 479.9 670.75 476.3 670.87 479.4 671.00 488.8 671.12 478.9 671.25 486.7 671.37 482.9 671.50 436.2 671.62 459.9 671.75 456.9 671.87 487.5 672.00 486.7 672.12 469.4 672.25 470.8 672.37 442.9 672.50 442.1 672.62 445.5 672.75 485.1 672.87 475.5 673.00 475.2 673.12 411.7 673.25 446.2 673.37 445.9 673.50 473.6 673.62 452.4 673.75 473.6 673.87 454.9 674.00 469.7 674.12 453.8 674.25 482.9 674.37 446.0 674.50 481.4 674.62 489.0 674.75 456.3 674.87 466.8 675.00 475.2" stroke="#636363" stroke-width="0.6" fill="none" stroke-linejoin="bevel"/>
<g fill="none">
<path d="M49.5 467.3H333.3" stroke="#111" stroke-width="1.3" stroke-dasharray="3.3 1.9 1 3.1"/>
<path d="M333.3 468.3H675" stroke="#111" stroke-width="1.3" stroke-dasharray="3.3 1.9 1 3.1"/>
<path d="M49.5 424.6H333" stroke="#111" stroke-width="1.7" stroke-dasharray="6.6 5.4"/>
<path d="M334.5 410.3H675" stroke="#111" stroke-width="1.7" stroke-dasharray="6.6 5.4"/>
<path d="M234.6 318.5V507" stroke="#000" stroke-width="1.6" stroke-dasharray="6.5 5.5"/>
<path d="M442.8 318.6V507" stroke="#000" stroke-width="1.6" stroke-dasharray="6.5 5.5"/>
<path d="M331.6 115L333.5 461" stroke="#000" stroke-width="2.8" stroke-dasharray="10 8"/>
<path d="M328.3 453.3L333.2 460.5L338.6 453.3" stroke="#000" stroke-width="2.8" stroke-linejoin="miter"/>
<path d="M49.5 451.0 L63.0 451.0 L63.0 437.6 L115.0 437.6 L115.0 414.6 L167.2 414.6 L167.2 383.2 L219.3 383.2 L219.3 388.4 L234.7 388.4 L234.7 441.0 L250.6 441.0 L250.6 460.3 L282.5 460.3 L282.5 464.6 L297.1 464.6 L297.1 466.4 L312.8 466.4 L312.8 464.9 L333.3 464.9 L333.3 467.3 L354.7 467.3 L354.7 465.0 L370.0 465.0 L370.0 462.1 L412.6 462.1 L412.6 465.0 L427.7 465.0 L427.7 448.5 L443.0 448.5 L443.0 391.0 L457.8 391.0 L457.8 383.4 L471.2 383.4 L471.2 289.3 L581.4 289.3 L581.4 310.5 L630.4 310.5 L630.4 415.8 L675.3 415.8" stroke="#000" stroke-width="2.4"/>
<!-- D arrows -->
<path d="M193.7 389V464" stroke="#000" stroke-width="1.4"/>
<path d="M531.3 293V463.5" stroke="#000" stroke-width="1.4"/>
<!-- processing arrows -->
<path d="M227 133.9H319.8M341.4 133.9H434.5" stroke="#555" stroke-width="2.2"/>
<path d="M235.4 129.1L226.3 133.9L235.4 138.7M426.1 129.1L435.2 133.9L426.1 138.7" stroke="#555" stroke-width="2.8" stroke-linecap="round" stroke-linejoin="round"/>
<!-- thresholds arrows -->
<path d="M385.3 315.9L285.5 393.8M394 317.1V383.8" stroke="#6a6a6a" stroke-width="1.6"/>
<path d="M288.2 386.6L284.8 394.4L293.6 393.1M389.8 376.6L394 384.6L398.4 376.6" stroke="#6a6a6a" stroke-width="1.6" stroke-linejoin="miter"/>
<!-- shaping arrow -->
<path d="M533 149L490.3 285" stroke="#000" stroke-width="2.8"/>
<path d="M487.8 277.6L489.8 286.6L496.6 280.2" stroke="#000" stroke-width="2.8" stroke-linecap="round"/>
</g>
<g fill="#000">
<path d="M193.7 385.2L190.9 390.6L196.5 390.6Z M193.7 467.6L190.9 462.2L196.5 462.2Z"/>
<path d="M531.3 289.3L528.5 294.7L534.1 294.7Z M531.3 467L528.5 461.6L534.1 461.6Z"/>
</g>
<path d="M49.5 4.3V490.5H675" stroke="#262626" stroke-width="1.1" fill="none"/>
<path d="M49.5 490.9H55.8M49.5 430.0H55.8M49.5 369.1H55.8M49.5 308.3H55.8M49.5 247.4H55.8M49.5 186.5H55.8M49.5 125.6H55.8M49.5 64.7H55.8M49.5 4.8H55.8M49.5 490V484M153.8 490V484M258.0 490V484M362.3 490V484M466.5 490V484M570.8 490V484M675.1 490V484" stroke="#1a1a1a" stroke-width="1" fill="none"/>
<g class="tk"><text x="46.3" y="498.5" text-anchor="end">0</text><text x="48.5" y="437.6" text-anchor="end">0.1</text><text x="48.5" y="376.7" text-anchor="end">0.2</text><text x="48.5" y="315.9" text-anchor="end">0.3</text><text x="48.5" y="255.0" text-anchor="end">0.4</text><text x="48.5" y="194.1" text-anchor="end">0.5</text><text x="48.5" y="133.2" text-anchor="end">0.6</text><text x="48.5" y="72.3" text-anchor="end">0.7</text><text x="48.5" y="12.4" text-anchor="end">0.8</text><text x="50.9" y="507.6" text-anchor="middle">4</text><text x="155.2" y="507.6" text-anchor="middle">6</text><text x="259.4" y="507.6" text-anchor="middle">8</text><text x="363.7" y="507.6" text-anchor="middle">10</text><text x="467.9" y="507.6" text-anchor="middle">12</text><text x="572.2" y="507.6" text-anchor="middle">14</text><text x="676.5" y="507.6" text-anchor="middle">16</text></g>
<g class="sf" font-size="20">
<text transform="translate(325.6,104) scale(1.32,1)" font-size="21" class="it">&#961;</text>
<text x="338.6" y="94.8" font-size="11.5">init</text>
<text x="233.8" y="158.2" font-size="20.6">Processing</text>
<text x="342.1" y="158.2" font-size="20.6">Processing</text>
<text x="224.2" y="185.8">for</text>
<text transform="translate(260.2,186) scale(1.3,1.04)" font-size="21" class="it">&#961;</text>
<text x="276.6" y="186.3" font-size="22">&#8804;</text>
<text transform="translate(293.4,186) scale(1.3,1.04)" font-size="21" class="it">&#961;</text>
<text x="306.8" y="176.8" font-size="11.5" class="it">init</text>
<text x="343.5" y="185.8">for</text>
<text transform="translate(379,186) scale(1.3,1.04)" font-size="21" class="it">&#961;</text>
<text x="395.8" y="186.3" font-size="22">&#8805;</text>
<text transform="translate(412.4,186) scale(1.3,1.04)" font-size="21" class="it">&#961;</text>
<text x="425.9" y="176.6" font-size="11.5" class="it">init</text>
<text x="513.6" y="108.6" font-size="20.5">Shaping</text>
<text x="514.4" y="133.8">signal</text><text x="567.6" y="133.9" class="it">s</text><path d="M568.8 123.4c1-1.6 2-1.8 3.2-0.9s2.2 0.7 3.2-0.9" stroke="#000" stroke-width="0.9" fill="none"/><text x="583.2" y="133.9" class="it">n</text><path d="M582.2 119.3H579.1V140H582.2M593.6 119.3H596.9V140H593.6" stroke="#000" stroke-width="1.1" fill="none"/>
<text x="351.8" y="304" font-size="20.3">Thresholds</text>
</g>
<g class="sf it" font-size="17.5">
<text x="268.6" y="413.5">&#947;</text><text x="276" y="419" font-size="10" font-style="normal">1</text>
<text transform="translate(282,413.6) scale(1,1.05)">D</text><text x="294" y="419" font-size="10" font-style="normal">1</text>
<text x="379" y="402">&#947;</text><text x="388.3" y="407" font-size="10" font-style="normal">2</text>
<text transform="translate(394.4,402) scale(1,1.07)">D</text><text x="408" y="407" font-size="10" font-style="normal">2</text>
<text transform="translate(174.4,443.4) scale(1,1.12)">D</text><text x="186.2" y="448.2" font-size="10" font-style="normal">1</text>
<text transform="translate(539.3,394.8) scale(1,1.12)">D</text><text x="551.2" y="400" font-size="10.5" font-style="normal">2</text>
</g>
<g class="sf bd">
<text x="335.3" y="526.4" font-size="18">Time (s)</text>
<text transform="translate(17.5,245) rotate(-90)" font-size="18.4" text-anchor="middle">sEMG amplitude</text>
<text x="227.6" y="524.5" font-size="25" class="it">t</text><text x="235.6" y="529.5" font-size="16">1</text>
<text x="437.4" y="529.7" font-size="25" class="it">t</text><text x="445.2" y="535" font-size="16">2</text>
</g>
</svg>
</body></html>
